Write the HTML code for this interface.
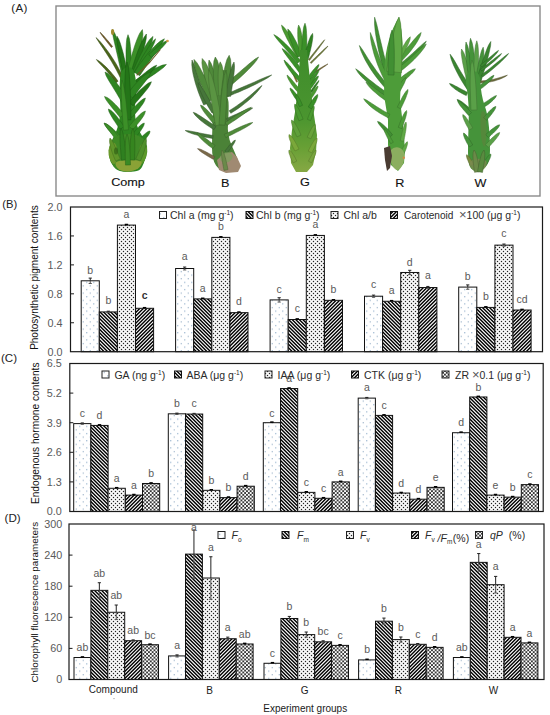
<!DOCTYPE html>
<html><head><meta charset="utf-8"><style>
html,body{margin:0;padding:0;background:#fff;overflow:hidden;}
svg{display:block;font-family:"Liberation Sans", sans-serif;}
</style></head><body>
<svg width="550" height="715" viewBox="0 0 550 715">

<defs>
<pattern id="pBlue" patternUnits="userSpaceOnUse" width="7" height="7.2" x="0" y="0">
 <rect width="7" height="7.2" fill="#fff"/>
 <rect x="2.2" y="1" width="1.1" height="1.1" fill="#86a6c6"/>
 <rect x="5.7" y="4.6" width="1.1" height="1.1" fill="#8fa9c2"/>
</pattern>
<pattern id="pBack" patternUnits="userSpaceOnUse" width="3.6" height="3.6" x="0.3" y="0">
 <rect width="3.6" height="3.6" fill="#fff"/>
 <polygon points="0,0 2.35,0 3.6,1.25 3.6,3.6" fill="#000"/>
 <polygon points="0,1.25 2.35,3.6 0,3.6" fill="#000"/>
</pattern>
<pattern id="pFwd" patternUnits="userSpaceOnUse" width="3.6" height="3.6" x="0.3" y="0">
 <rect width="3.6" height="3.6" fill="#fff"/>
 <polygon points="3.6,0 1.25,0 0,1.25 0,3.6" fill="#000"/>
 <polygon points="3.6,1.25 1.25,3.6 3.6,3.6" fill="#000"/>
</pattern>
<pattern id="pDot" patternUnits="userSpaceOnUse" width="4" height="4" x="0" y="0">
 <rect width="4" height="4" fill="#fff"/>
 <rect x="0.85" y="0.85" width="1.3" height="1.3" fill="#222"/>
 <rect x="2.85" y="2.85" width="1.3" height="1.3" fill="#222"/>
 <rect x="-1.15" y="2.85" width="1.3" height="1.3" fill="#222"/>
 <rect x="2.85" y="-1.15" width="1.3" height="1.3" fill="#222"/>
 <rect x="-1.15" y="-1.15" width="1.3" height="1.3" fill="#222"/>
</pattern>
<pattern id="pChk" patternUnits="userSpaceOnUse" width="3.7" height="3.7">
 <rect width="3.7" height="3.7" fill="#fff"/>
 <rect x="0" y="0" width="1.85" height="1.85" fill="#383838"/>
 <rect x="1.85" y="1.85" width="1.85" height="1.85" fill="#383838"/>
</pattern>
</defs>

<rect width="550" height="715" fill="#fff"/>
<rect x="56" y="6" width="484" height="190" fill="#fff" stroke="#8a8a8a" stroke-width="1.4"/>
<polygon points="123.3,77.4 121.1,73.0 118.8,68.7 116.5,64.5 114.0,60.4 111.3,56.3 108.6,52.3 105.7,48.4 102.7,44.6 99.6,40.9 96.0,37.6 98.6,41.7 101.3,45.7 104.0,49.7 106.6,53.7 109.2,57.7 111.7,61.8 114.1,65.9 116.4,70.1 118.6,74.3 120.7,78.6" fill="#4a6619" stroke="#354912" stroke-width="0.5"/>
<polygon points="112.6,46.5 111.4,45.0 110.2,43.6 109.0,42.1 107.8,40.6 106.5,39.2 105.3,37.7 104.1,36.3 102.8,34.9 101.5,33.5 100.0,32.2 100.9,33.9 102.0,35.5 103.1,37.0 104.3,38.5 105.5,40.0 106.6,41.5 107.8,43.0 109.0,44.5 110.2,46.0 111.4,47.5" fill="#6e5a26" stroke="#4f401b" stroke-width="0.5"/>
<polygon points="118.1,81.3 116.3,78.7 114.4,76.3 112.4,73.9 110.4,71.5 108.3,69.3 106.2,67.1 103.9,65.0 101.6,62.9 99.1,61.1 96.4,59.5 98.3,62.0 100.4,64.2 102.5,66.4 104.5,68.6 106.6,70.9 108.5,73.2 110.5,75.5 112.3,77.9 114.2,80.3 115.9,82.7" fill="#4a6619" stroke="#354912" stroke-width="0.5"/>
<polygon points="126.5,73.5 125.5,69.0 124.6,64.5 123.5,60.0 122.4,55.5 121.2,51.0 119.8,46.6 118.4,42.2 116.7,37.9 114.9,33.6 112.4,29.6 112.7,34.3 113.6,38.8 114.6,43.3 115.7,47.8 116.7,52.2 117.7,56.6 118.7,61.1 119.7,65.5 120.7,70.0 121.5,74.5" fill="#2e8521" stroke="#215f17" stroke-width="0.5"/>
<polygon points="127.2,71.6 126.5,68.0 125.7,64.4 125.0,60.8 124.1,57.2 123.3,53.6 122.3,50.0 121.3,46.5 120.2,43.0 118.9,39.5 117.0,36.2 116.9,40.0 117.3,43.7 117.9,47.3 118.5,50.9 119.2,54.5 119.9,58.1 120.6,61.7 121.4,65.3 122.1,68.8 122.8,72.4" fill="#247518" stroke="#195411" stroke-width="0.5"/>
<polygon points="131.7,73.9 131.6,70.0 131.5,66.1 131.4,62.1 131.2,58.2 131.0,54.3 130.8,50.4 130.4,46.4 130.0,42.5 129.4,38.6 128.0,34.7 126.8,38.7 126.4,42.6 126.2,46.5 126.0,50.5 126.0,54.4 126.0,58.3 126.0,62.3 126.1,66.2 126.2,70.1 126.3,74.1" fill="#2e8521" stroke="#215f17" stroke-width="0.5"/>
<polygon points="134.6,73.0 135.8,68.7 136.9,64.5 138.0,60.2 139.0,56.0 140.0,51.7 141.0,47.4 141.8,43.1 142.5,38.7 142.9,34.3 142.4,29.6 139.6,33.4 137.8,37.4 136.2,41.6 134.7,45.7 133.4,49.9 132.1,54.1 130.9,58.3 129.7,62.6 128.5,66.8 127.4,71.0" fill="#3c9028" stroke="#2b671c" stroke-width="0.5"/>
<polygon points="136.6,72.8 137.8,69.0 138.9,65.2 140.1,61.3 141.2,57.5 142.4,53.7 143.5,49.9 144.5,46.0 145.5,42.1 146.3,38.2 146.4,34.0 143.9,37.4 142.1,41.0 140.5,44.7 139.0,48.4 137.5,52.1 136.2,55.9 134.9,59.7 133.7,63.5 132.5,67.4 131.4,71.2" fill="#247518" stroke="#195411" stroke-width="0.5"/>
<polygon points="138.8,73.2 140.3,69.5 141.8,65.9 143.4,62.4 145.0,58.8 146.5,55.2 148.1,51.6 149.6,47.9 151.0,44.3 152.3,40.5 153.0,36.4 149.9,39.2 147.6,42.5 145.4,45.9 143.4,49.3 141.6,52.8 139.8,56.3 138.0,59.9 136.4,63.5 134.8,67.2 133.2,70.8" fill="#2e8521" stroke="#215f17" stroke-width="0.5"/>
<polygon points="139.0,73.0 140.7,69.6 142.4,66.2 144.2,62.9 145.9,59.5 147.7,56.2 149.4,52.8 151.2,49.4 152.9,46.0 154.5,42.6 155.6,38.8 152.7,41.5 150.3,44.5 148.1,47.7 146.1,50.9 144.1,54.1 142.1,57.4 140.3,60.8 138.5,64.2 136.7,67.6 135.0,71.0" fill="#2e8521" stroke="#215f17" stroke-width="0.5"/>
<polygon points="139.7,75.8 142.2,72.1 144.6,68.4 147.1,64.8 149.7,61.2 152.3,57.6 154.9,54.1 157.5,50.5 160.0,46.8 162.5,43.1 164.4,38.8 160.3,41.1 156.8,44.1 153.6,47.2 150.5,50.5 147.5,53.9 144.7,57.5 142.0,61.1 139.3,64.7 136.8,68.5 134.3,72.2" fill="#2e8521" stroke="#215f17" stroke-width="0.5"/>
<polygon points="151.3,57.5 153.0,56.0 154.8,54.5 156.5,52.9 158.2,51.4 159.8,49.8 161.5,48.2 163.1,46.5 164.6,44.8 166.1,43.0 167.2,40.8 164.9,41.6 162.9,42.9 161.0,44.2 159.2,45.6 157.4,47.0 155.6,48.5 153.9,50.0 152.1,51.5 150.4,53.0 148.7,54.5" fill="#2e8521" stroke="#215f17" stroke-width="0.5"/>
<polygon points="136.6,86.3 139.6,84.2 142.6,82.1 145.7,80.0 148.7,78.0 151.8,75.9 154.8,73.9 157.8,71.8 160.8,69.6 163.8,67.3 166.4,64.4 162.5,65.1 159.1,66.5 155.7,68.1 152.3,69.8 149.1,71.6 145.9,73.5 142.7,75.5 139.6,77.5 136.5,79.6 133.4,81.7" fill="#2e8521" stroke="#215f17" stroke-width="0.5"/>
<polygon points="138.3,83.5 140.3,81.8 142.2,80.2 144.2,78.5 146.2,76.7 148.1,75.0 150.0,73.2 151.9,71.4 153.7,69.6 155.4,67.6 156.8,65.2 154.2,66.2 152.0,67.6 149.9,69.1 147.8,70.6 145.7,72.2 143.7,73.8 141.7,75.5 139.7,77.1 137.7,78.8 135.7,80.5" fill="#247518" stroke="#195411" stroke-width="0.5"/>
<path d="M160.0,50.0 L150.0,62.0 L137.0,75.0" fill="none" stroke="#6e5a26" stroke-width="1.1" stroke-linecap="round" stroke-linejoin="round"/>
<ellipse cx="112.6" cy="32" rx="1.6" ry="3" fill="#a08a30"/>
<circle cx="167.5" cy="41" r="1.3" fill="#d49a48"/>
<path d="M120.0,79.0 Q121.0,68.0 127.5,67.0 Q134.0,66.0 135.5,78.0 Q137.0,90.0 135.5,100.0 Q134.0,110.0 135.5,119.0 Q137.0,128.0 141.0,134.0 Q145.0,140.0 146.0,146.0 Q147.0,152.0 145.5,157.5 Q144.0,163.0 142.0,167.0 Q140.0,171.0 134.0,171.5 Q128.0,172.0 122.5,171.5 Q117.0,171.0 113.5,166.5 Q110.0,162.0 109.0,156.0 Q108.0,150.0 110.0,145.0 Q112.0,140.0 115.0,134.0 Q118.0,128.0 119.5,119.0 Q121.0,110.0 120.0,100.0 Q119.0,90.0 120.0,79.0 Z" fill="#2e8521"/>
<polygon points="126.6,98.5 124.9,95.5 123.2,92.6 121.3,89.7 119.4,86.8 117.4,84.0 115.3,81.3 113.1,78.7 110.8,76.2 108.2,73.8 105.0,72.0 106.0,75.5 107.6,78.5 109.3,81.4 111.1,84.3 112.8,87.1 114.6,90.0 116.3,92.8 118.0,95.7 119.7,98.6 121.4,101.5" fill="#2e8521" stroke="#215f17" stroke-width="0.5"/>
<polygon points="124.0,114.5 122.3,112.4 120.7,110.3 118.9,108.3 117.2,106.3 115.3,104.4 113.4,102.5 111.5,100.7 109.4,99.0 107.2,97.5 104.5,96.5 105.6,99.1 107.1,101.3 108.7,103.4 110.3,105.4 111.9,107.5 113.5,109.5 115.2,111.5 116.8,113.5 118.4,115.5 120.0,117.5" fill="#3c9028" stroke="#2b671c" stroke-width="0.5"/>
<polygon points="124.1,126.6 122.8,124.7 121.5,122.7 120.1,120.8 118.7,118.9 117.3,117.0 115.8,115.2 114.2,113.4 112.5,111.7 110.7,110.2 108.4,109.0 108.9,111.5 110.0,113.7 111.1,115.7 112.3,117.7 113.5,119.7 114.8,121.6 116.1,123.6 117.4,125.5 118.6,127.4 119.9,129.4" fill="#2e8521" stroke="#215f17" stroke-width="0.5"/>
<polygon points="121.7,137.5 120.1,135.8 118.5,134.1 116.9,132.5 115.3,130.9 113.6,129.4 111.9,127.8 110.2,126.4 108.3,125.0 106.4,123.8 104.0,123.0 105.0,125.3 106.3,127.1 107.7,128.9 109.2,130.6 110.7,132.3 112.2,133.9 113.8,135.6 115.3,137.2 116.8,138.9 118.3,140.5" fill="#3c9028" stroke="#2b671c" stroke-width="0.5"/>
<polygon points="132.6,97.9 134.5,95.4 136.4,92.9 138.3,90.4 140.2,87.9 142.2,85.5 144.1,83.0 146.1,80.5 147.9,78.0 149.7,75.3 151.0,72.0 147.7,73.2 144.9,75.0 142.4,77.1 140.0,79.2 137.7,81.5 135.5,83.9 133.3,86.4 131.3,88.9 129.3,91.5 127.4,94.1" fill="#2e8521" stroke="#215f17" stroke-width="0.5"/>
<polygon points="133.1,105.8 135.0,103.5 137.0,101.3 139.0,99.0 140.9,96.7 142.9,94.4 144.8,92.1 146.7,89.8 148.5,87.4 150.2,84.8 151.4,81.8 148.4,83.1 145.9,84.9 143.6,86.9 141.3,88.9 139.1,91.0 137.0,93.2 134.9,95.4 132.9,97.6 130.9,99.9 128.9,102.2" fill="#247518" stroke="#195411" stroke-width="0.5"/>
<polygon points="131.9,117.6 133.4,115.8 135.0,114.0 136.5,112.2 138.0,110.4 139.5,108.5 140.9,106.6 142.3,104.7 143.6,102.7 144.7,100.5 145.4,98.0 143.0,99.1 141.1,100.5 139.3,102.1 137.6,103.8 135.9,105.5 134.3,107.2 132.8,109.0 131.2,110.8 129.6,112.6 128.1,114.4" fill="#2e8521" stroke="#215f17" stroke-width="0.5"/>
<polygon points="132.9,129.6 134.3,127.9 135.8,126.2 137.2,124.5 138.6,122.8 140.0,121.0 141.3,119.2 142.6,117.4 143.8,115.5 144.8,113.4 145.4,111.0 143.1,112.0 141.3,113.3 139.6,114.8 138.0,116.4 136.4,118.0 134.9,119.6 133.4,121.3 132.0,123.0 130.5,124.7 129.1,126.4" fill="#3c9028" stroke="#2b671c" stroke-width="0.5"/>
<polygon points="134.8,138.4 135.9,137.0 137.0,135.6 138.1,134.2 139.2,132.8 140.3,131.3 141.3,129.8 142.3,128.3 143.2,126.7 144.0,125.0 144.3,123.0 142.4,123.8 140.9,124.9 139.5,126.1 138.3,127.4 137.0,128.7 135.8,130.0 134.7,131.4 133.5,132.8 132.4,134.2 131.2,135.6" fill="#2e8521" stroke="#215f17" stroke-width="0.5"/>
<polygon points="140.7,144.5 141.8,143.3 142.9,142.1 143.9,140.9 145.0,139.7 146.0,138.4 147.0,137.1 148.0,135.8 148.9,134.4 149.7,132.9 150.0,131.0 148.1,131.5 146.7,132.4 145.4,133.4 144.2,134.5 143.0,135.6 141.8,136.7 140.7,137.9 139.5,139.1 138.4,140.3 137.3,141.5" fill="#2e8521" stroke="#215f17" stroke-width="0.5"/>
<polygon points="118.6,136.9 117.5,135.2 116.3,133.7 115.1,132.1 113.8,130.6 112.5,129.1 111.1,127.7 109.6,126.4 108.1,125.1 106.4,124.0 104.4,123.3 105.2,125.3 106.2,126.9 107.4,128.5 108.5,130.0 109.7,131.5 110.8,133.0 112.0,134.5 113.1,136.1 114.3,137.6 115.4,139.1" fill="#3c9028" stroke="#2b671c" stroke-width="0.5"/>
<polygon points="131.0,119.9 130.9,114.1 130.8,108.3 130.7,102.5 130.5,96.8 130.3,91.0 130.0,85.2 129.6,79.4 129.2,73.6 128.5,67.8 127.0,62.0 125.7,67.8 125.2,73.6 125.0,79.4 124.8,85.2 124.7,91.0 124.7,96.8 124.7,102.7 124.8,108.5 124.9,114.3 125.0,120.1" fill="#247518" stroke="#195411" stroke-width="0.5"/>
<polygon points="128.5,129.8 128.1,124.8 127.7,119.8 127.3,114.8 126.8,109.8 126.3,104.8 125.8,99.8 125.1,94.8 124.4,89.9 123.5,84.9 122.0,80.0 121.3,85.1 121.2,90.1 121.3,95.2 121.4,100.2 121.7,105.2 122.0,110.2 122.3,115.2 122.7,120.2 123.1,125.2 123.5,130.2" fill="#3c9028" stroke="#2b671c" stroke-width="0.5"/>
<path d="M110.0,145.5 Q112.0,138.0 117.0,136.0 Q122.0,134.0 129.0,134.0 Q136.0,134.0 141.0,137.0 Q146.0,140.0 147.0,146.0 Q148.0,152.0 146.0,157.5 Q144.0,163.0 140.5,166.5 Q137.0,170.0 132.5,171.0 Q128.0,172.0 123.5,171.5 Q119.0,171.0 115.5,168.0 Q112.0,165.0 110.0,159.0 Q108.0,153.0 110.0,145.5 Z" fill="#3f8a26"/>
<path d="M108.5,150.5 Q109.0,146.0 112.0,143.5 Q115.0,141.0 116.5,146.5 Q118.0,152.0 117.0,158.0 Q116.0,164.0 114.0,164.0 Q112.0,164.0 110.0,159.5 Q108.0,155.0 108.5,150.5 Z" fill="#6f9a2c" opacity="0.9"/>
<path d="M140.0,146.5 Q141.0,143.0 144.0,144.0 Q147.0,145.0 147.0,150.5 Q147.0,156.0 144.5,160.5 Q142.0,165.0 140.5,162.5 Q139.0,160.0 139.0,155.0 Q139.0,150.0 140.0,146.5 Z" fill="#5f9a2a" opacity="0.9"/>
<path d="M116.0,166.0 Q114.0,162.0 119.0,161.0 Q124.0,160.0 130.0,160.0 Q136.0,160.0 139.5,160.5 Q143.0,161.0 141.0,165.0 Q139.0,169.0 133.5,170.5 Q128.0,172.0 123.0,171.0 Q118.0,170.0 116.0,166.0 Z" fill="#8aa236"/>
<polygon points="120.3,158.9 119.3,156.8 118.4,154.7 117.5,152.6 116.6,150.5 115.7,148.4 114.8,146.3 113.9,144.1 112.9,142.0 111.7,139.9 110.0,138.0 109.5,140.6 109.7,143.0 110.2,145.3 110.7,147.7 111.4,150.0 112.1,152.2 112.9,154.5 113.8,156.7 114.7,158.9 115.7,161.1" fill="#5f962a" stroke="#446c1e" stroke-width="0.5"/>
<polygon points="140.3,161.1 141.3,158.9 142.2,156.7 143.1,154.5 143.9,152.2 144.6,150.0 145.3,147.7 145.8,145.3 146.3,143.0 146.5,140.6 146.0,138.0 144.3,139.9 143.1,142.0 142.1,144.1 141.2,146.3 140.3,148.4 139.4,150.5 138.5,152.6 137.6,154.7 136.7,156.8 135.7,158.9" fill="#4f902a" stroke="#38671e" stroke-width="0.5"/>
<polygon points="126.5,159.8 126.2,156.6 125.9,153.4 125.5,150.2 125.2,147.0 124.8,143.8 124.4,140.6 123.8,137.4 123.2,134.2 122.4,131.1 121.0,128.0 120.2,131.3 120.0,134.6 120.0,137.8 120.0,141.0 120.2,144.2 120.4,147.4 120.7,150.6 120.9,153.8 121.2,157.0 121.5,160.2" fill="#2f8020" stroke="#215c17" stroke-width="0.5"/>
<polygon points="134.5,160.1 134.6,156.9 134.7,153.7 134.8,150.5 134.8,147.3 134.8,144.1 134.8,140.9 134.6,137.7 134.4,134.5 134.0,131.2 133.0,128.0 131.8,131.2 131.2,134.3 130.8,137.5 130.4,140.7 130.2,143.9 130.0,147.1 129.8,150.3 129.7,153.5 129.6,156.7 129.5,159.9" fill="#35851f" stroke="#265f16" stroke-width="0.5"/>
<polygon points="130.5,164.9 130.4,161.8 130.3,158.7 130.2,155.6 130.0,152.5 129.8,149.4 129.6,146.3 129.2,143.2 128.8,140.1 128.2,137.1 127.0,134.0 126.0,137.1 125.6,140.3 125.4,143.4 125.2,146.5 125.2,149.6 125.2,152.7 125.2,155.8 125.3,158.9 125.4,162.0 125.5,165.1" fill="#3a8a24" stroke="#296319" stroke-width="0.5"/>
<ellipse cx="116" cy="151" rx="2" ry="3.6" fill="#2a5a12" opacity="0.6"/>
<polygon points="230.4,85.7 233.5,83.2 236.6,80.5 239.6,77.9 242.6,75.2 245.5,72.4 248.4,69.6 251.2,66.7 253.9,63.7 256.5,60.6 258.6,57.0 255.0,59.1 251.9,61.6 248.8,64.1 245.8,66.7 242.7,69.3 239.7,71.9 236.7,74.5 233.7,77.1 230.6,79.7 227.6,82.3" fill="#4f8a3a" stroke="#386329" stroke-width="0.5"/>
<polygon points="230.6,95.4 234.8,93.6 239.1,91.9 243.3,90.0 247.5,88.2 251.6,86.2 255.8,84.2 259.9,82.1 263.9,80.0 267.9,77.7 271.7,75.0 267.3,76.5 263.1,78.2 258.9,80.0 254.7,81.9 250.5,83.7 246.3,85.5 242.1,87.3 237.9,89.1 233.7,90.9 229.4,92.6" fill="#46763a" stroke="#325429" stroke-width="0.5"/>
<polygon points="230.8,113.3 234.4,111.0 237.9,108.7 241.3,106.2 244.6,103.6 247.8,101.0 251.0,98.2 254.0,95.3 256.9,92.2 259.6,89.0 262.0,85.5 258.6,88.1 255.5,90.8 252.4,93.6 249.3,96.2 246.1,98.8 242.8,101.4 239.5,103.8 236.2,106.2 232.7,108.5 229.2,110.7" fill="#46763a" stroke="#325429" stroke-width="0.5"/>
<path d="M202.5,82.0 Q201.0,74.0 207.5,72.0 Q214.0,70.0 221.5,70.0 Q229.0,70.0 231.0,75.0 Q233.0,80.0 232.0,86.0 Q231.0,92.0 228.5,96.0 Q226.0,100.0 222.0,101.0 Q218.0,102.0 214.0,100.0 Q210.0,98.0 207.0,94.0 Q204.0,90.0 202.5,82.0 Z" fill="#4f8a3a"/>
<polygon points="208.3,102.9 206.4,98.8 204.6,94.6 202.9,90.3 201.3,86.0 199.8,81.8 198.3,77.4 196.9,73.1 195.5,68.7 194.0,64.3 192.0,60.0 191.8,64.8 192.3,69.5 193.1,74.1 194.2,78.6 195.4,83.2 196.8,87.6 198.3,92.0 200.0,96.4 201.8,100.8 203.7,105.1" fill="#46763a" stroke="#325429" stroke-width="0.5"/>
<polygon points="215.1,98.4 213.2,94.5 211.3,90.5 209.3,86.5 207.4,82.6 205.5,78.6 203.5,74.6 201.5,70.7 199.4,66.8 197.1,62.9 194.0,59.4 194.2,64.1 195.2,68.5 196.5,72.8 198.0,77.0 199.6,81.2 201.3,85.3 203.1,89.4 205.0,93.5 206.9,97.5 208.9,101.6" fill="#4f8a3a" stroke="#386329" stroke-width="0.5"/>
<polygon points="218.6,95.8 217.3,92.0 216.0,88.1 214.7,84.3 213.3,80.5 211.9,76.7 210.4,72.9 208.8,69.1 207.1,65.4 205.1,61.8 202.2,58.5 201.9,62.9 202.4,67.0 203.3,71.0 204.2,74.9 205.3,78.8 206.5,82.7 207.7,86.6 208.9,90.5 210.2,94.3 211.4,98.2" fill="#5a9442" stroke="#406a2f" stroke-width="0.5"/>
<polygon points="219.9,95.3 219.1,91.7 218.3,88.2 217.5,84.6 216.6,81.0 215.7,77.4 214.7,73.8 213.7,70.3 212.5,66.8 211.1,63.3 209.0,60.0 208.5,63.9 208.7,67.6 209.1,71.3 209.7,75.0 210.3,78.6 211.0,82.2 211.7,85.8 212.5,89.4 213.3,93.1 214.1,96.7" fill="#4f8a3a" stroke="#386329" stroke-width="0.5"/>
<polygon points="223.0,95.6 222.6,91.7 222.2,87.8 221.8,83.9 221.3,80.0 220.8,76.2 220.2,72.3 219.5,68.4 218.6,64.6 217.5,60.7 215.3,57.0 213.9,61.1 213.5,65.0 213.3,69.0 213.3,72.9 213.5,76.8 213.7,80.8 214.0,84.7 214.3,88.6 214.7,92.5 215.0,96.4" fill="#4f8a3a" stroke="#386329" stroke-width="0.5"/>
<polygon points="225.2,95.8 225.1,92.4 224.9,89.0 224.7,85.6 224.4,82.2 224.1,78.7 223.7,75.3 223.3,71.9 222.7,68.5 221.9,65.1 220.2,61.8 218.9,65.3 218.4,68.8 218.2,72.2 218.1,75.6 218.1,79.1 218.2,82.5 218.3,85.9 218.4,89.3 218.6,92.8 218.8,96.2" fill="#5a9442" stroke="#406a2f" stroke-width="0.5"/>
<polygon points="229.0,96.4 229.4,92.3 229.8,88.3 230.2,84.2 230.5,80.1 230.8,76.0 231.0,71.9 231.0,67.8 230.9,63.7 230.6,59.6 229.2,55.3 227.0,59.2 225.8,63.2 224.8,67.2 224.1,71.2 223.4,75.3 222.9,79.3 222.3,83.4 221.9,87.5 221.4,91.5 221.0,95.6" fill="#4f8a3a" stroke="#386329" stroke-width="0.5"/>
<polygon points="230.5,96.4 231.1,93.0 231.7,89.6 232.2,86.2 232.8,82.8 233.3,79.4 233.7,76.0 234.1,72.5 234.4,69.1 234.5,65.6 234.0,62.0 232.3,65.2 231.2,68.5 230.3,71.9 229.5,75.2 228.7,78.6 228.0,82.0 227.4,85.4 226.7,88.8 226.1,92.2 225.5,95.6" fill="#46763a" stroke="#325429" stroke-width="0.5"/>
<polygon points="215.9,110.8 214.2,108.0 212.4,105.2 210.7,102.3 209.1,99.5 207.4,96.6 205.7,93.7 204.0,90.9 202.2,88.1 200.4,85.3 198.0,82.7 198.5,86.2 199.6,89.4 200.9,92.5 202.3,95.6 203.7,98.6 205.3,101.6 206.9,104.5 208.6,107.4 210.3,110.3 212.1,113.2" fill="#46763a" stroke="#325429" stroke-width="0.5"/>
<path d="M213.5,104.0 Q214.0,96.0 221.0,95.0 Q228.0,94.0 228.5,102.0 Q229.0,110.0 228.0,122.5 Q227.0,135.0 231.5,145.0 Q236.0,155.0 238.0,160.5 Q240.0,166.0 236.0,169.0 Q232.0,172.0 226.0,171.5 Q220.0,171.0 216.0,165.5 Q212.0,160.0 212.0,147.5 Q212.0,135.0 212.5,123.5 Q213.0,112.0 213.5,104.0 Z" fill="#4b8237"/>
<polygon points="227.6,121.4 230.2,120.2 232.8,119.0 235.3,117.7 237.9,116.5 240.4,115.3 243.0,114.0 245.5,112.7 248.0,111.3 250.4,109.8 252.7,108.0 249.8,108.6 247.1,109.5 244.5,110.5 241.9,111.6 239.3,112.7 236.7,113.9 234.1,115.1 231.5,116.2 228.9,117.4 226.4,118.6" fill="#46763a" stroke="#325429" stroke-width="0.5"/>
<polygon points="227.0,125.5 229.5,123.8 232.0,122.1 234.6,120.4 237.1,118.7 239.6,116.9 242.1,115.2 244.5,113.4 246.9,111.5 249.3,109.5 251.4,107.2 248.4,108.2 245.7,109.6 243.0,111.1 240.4,112.7 237.8,114.3 235.2,115.9 232.7,117.5 230.1,119.2 227.6,120.9 225.0,122.5" fill="#4f8a3a" stroke="#386329" stroke-width="0.5"/>
<polygon points="225.8,137.6 228.5,136.2 231.3,134.9 234.1,133.5 236.9,132.1 239.6,130.7 242.3,129.3 245.1,127.8 247.7,126.2 250.4,124.6 252.8,122.5 249.7,123.1 246.7,124.2 243.9,125.3 241.0,126.5 238.2,127.8 235.4,129.1 232.6,130.4 229.8,131.7 227.0,133.1 224.2,134.4" fill="#4f8a3a" stroke="#386329" stroke-width="0.5"/>
<polygon points="227.2,152.9 228.1,151.7 229.1,150.5 230.0,149.3 230.9,148.1 231.8,146.9 232.7,145.6 233.5,144.3 234.3,143.0 235.0,141.6 235.4,140.0 233.9,140.8 232.8,141.8 231.7,142.9 230.6,144.0 229.6,145.1 228.6,146.3 227.7,147.5 226.7,148.7 225.8,149.9 224.8,151.1" fill="#46763a" stroke="#325429" stroke-width="0.5"/>
<polygon points="216.7,120.5 215.3,118.8 213.8,117.1 212.3,115.5 210.8,113.8 209.3,112.2 207.8,110.5 206.2,109.0 204.5,107.5 202.7,106.0 200.5,105.0 201.2,107.4 202.3,109.3 203.5,111.2 204.8,113.1 206.2,114.8 207.6,116.6 209.0,118.3 210.4,120.1 211.8,121.8 213.3,123.5" fill="#4f8a3a" stroke="#386329" stroke-width="0.5"/>
<polygon points="216.0,126.3 213.8,124.9 211.5,123.5 209.3,122.0 207.1,120.5 204.9,119.1 202.7,117.6 200.4,116.1 198.2,114.7 195.9,113.3 193.2,112.3 194.7,114.7 196.6,116.7 198.5,118.6 200.6,120.4 202.7,122.1 204.9,123.7 207.1,125.3 209.4,126.8 211.6,128.3 214.0,129.7" fill="#46763a" stroke="#325429" stroke-width="0.5"/>
<polygon points="213.2,135.5 210.4,135.0 207.6,134.5 204.9,134.0 202.1,133.5 199.3,132.9 196.5,132.3 193.7,131.7 190.9,131.2 188.1,130.7 185.2,130.5 187.7,132.0 190.4,133.1 193.1,134.0 195.9,134.8 198.7,135.6 201.5,136.3 204.3,136.9 207.1,137.5 209.9,138.0 212.8,138.5" fill="#46763a" stroke="#325429" stroke-width="0.5"/>
<polygon points="215.1,145.4 213.3,144.1 211.5,142.8 209.8,141.4 208.0,140.1 206.3,138.8 204.5,137.4 202.7,136.1 200.9,134.8 199.0,133.5 196.8,132.6 197.8,134.8 199.1,136.7 200.7,138.4 202.2,140.0 203.9,141.6 205.6,143.1 207.4,144.6 209.2,146.0 211.0,147.3 212.9,148.6" fill="#4f8a3a" stroke="#386329" stroke-width="0.5"/>
<polygon points="214.7,156.7 213.1,155.8 211.4,154.8 209.8,153.9 208.1,153.0 206.4,152.1 204.7,151.2 203.0,150.4 201.3,149.6 199.5,148.9 197.5,148.6 198.8,150.1 200.3,151.3 201.9,152.4 203.5,153.5 205.1,154.5 206.7,155.5 208.3,156.5 210.0,157.4 211.6,158.4 213.3,159.3" fill="#7a6a4a" stroke="#574c35" stroke-width="0.5"/>
<polygon points="222.4,124.4 221.4,118.9 220.4,113.4 219.4,107.9 218.3,102.4 217.2,96.9 216.0,91.5 214.7,86.0 213.2,80.6 211.6,75.2 209.0,70.0 208.4,75.8 208.8,81.4 209.3,87.0 210.0,92.5 210.8,98.1 211.7,103.6 212.6,109.1 213.6,114.6 214.6,120.1 215.6,125.6" fill="#5a9442" stroke="#406a2f" stroke-width="0.5"/>
<polygon points="225.0,125.2 225.4,119.7 225.8,114.2 226.1,108.7 226.5,103.2 226.8,97.7 227.0,92.2 227.1,86.7 227.1,81.1 227.0,75.6 226.0,70.0 224.2,75.4 223.3,80.9 222.5,86.3 221.8,91.8 221.2,97.3 220.7,102.8 220.3,108.3 219.8,113.8 219.4,119.3 219.0,124.8" fill="#4f8a3a" stroke="#386329" stroke-width="0.5"/>
<polygon points="217.0,160.0 224.0,154.0 232.0,152.0 237.0,157.0 241.0,166.0 238.0,172.0 226.0,173.0 219.0,170.0" fill="#a08a72"/>
<path d="M220.0,159.0 Q219.0,156.0 223.5,153.5 Q228.0,151.0 231.0,153.5 Q234.0,156.0 231.5,159.5 Q229.0,163.0 225.0,162.5 Q221.0,162.0 220.0,159.0 Z" fill="#7e9e5e" opacity="0.85"/>
<polygon points="228.0,169.6 227.6,167.6 227.2,165.6 226.7,163.6 226.3,161.6 225.8,159.6 225.3,157.7 224.7,155.7 224.1,153.7 223.3,151.8 222.0,150.0 221.5,152.2 221.5,154.3 221.7,156.3 221.9,158.3 222.2,160.4 222.5,162.4 222.9,164.4 223.2,166.4 223.6,168.4 224.0,170.4" fill="#6a8a4a" stroke="#4c6335" stroke-width="0.5"/>
<linearGradient id="gG" x1="0" y1="0" x2="0" y2="1"><stop offset="0" stop-color="#3f8c2c"/><stop offset="0.55" stop-color="#4a952f"/><stop offset="0.8" stop-color="#68a035"/><stop offset="1" stop-color="#86a844"/></linearGradient>
<polygon points="300.6,60.8 298.2,57.8 295.8,54.9 293.4,52.1 290.9,49.3 288.3,46.5 285.7,43.9 282.9,41.3 280.1,38.8 277.2,36.5 273.8,34.6 275.9,37.8 278.3,40.7 280.7,43.5 283.2,46.3 285.6,49.0 288.0,51.8 290.4,54.6 292.8,57.5 295.1,60.3 297.4,63.2" fill="#3a9028" stroke="#29671c" stroke-width="0.5"/>
<polygon points="301.2,54.8 299.5,51.7 297.8,48.6 296.1,45.4 294.3,42.3 292.5,39.3 290.6,36.3 288.6,33.3 286.5,30.4 284.3,27.6 281.5,25.1 282.3,28.7 283.7,32.0 285.3,35.2 286.8,38.4 288.5,41.6 290.1,44.7 291.8,47.8 293.5,50.9 295.1,54.0 296.8,57.2" fill="#4a9a30" stroke="#356e22" stroke-width="0.5"/>
<polygon points="302.3,55.0 301.1,52.3 299.8,49.6 298.6,46.9 297.3,44.2 296.0,41.5 294.6,38.9 293.2,36.3 291.7,33.7 290.1,31.2 287.8,29.0 288.0,32.2 288.8,35.1 289.7,37.9 290.7,40.7 291.8,43.5 292.9,46.2 294.1,48.9 295.3,51.6 296.5,54.3 297.7,57.0" fill="#3a9028" stroke="#29671c" stroke-width="0.5"/>
<polygon points="304.5,55.7 304.1,52.6 303.8,49.5 303.4,46.5 303.0,43.4 302.6,40.3 302.1,37.2 301.6,34.2 300.9,31.1 300.1,28.1 298.6,25.1 297.8,28.3 297.7,31.5 297.7,34.6 297.8,37.7 298.0,40.8 298.3,43.9 298.5,47.0 298.8,50.1 299.2,53.2 299.5,56.3" fill="#4a9a30" stroke="#356e22" stroke-width="0.5"/>
<polygon points="306.5,58.1 306.6,54.6 306.7,51.1 306.8,47.6 306.8,44.1 306.8,40.7 306.8,37.2 306.6,33.7 306.4,30.2 306.0,26.7 305.0,23.2 303.8,26.6 303.2,30.1 302.8,33.6 302.4,37.1 302.2,40.5 302.0,44.0 301.8,47.5 301.7,51.0 301.6,54.4 301.5,57.9" fill="#3a9028" stroke="#29671c" stroke-width="0.5"/>
<polygon points="307.8,60.6 308.5,57.9 309.2,55.2 309.8,52.6 310.5,49.9 311.1,47.2 311.7,44.5 312.2,41.8 312.6,39.1 312.9,36.3 312.6,33.4 310.9,35.8 309.8,38.3 308.8,40.9 307.9,43.5 307.1,46.2 306.3,48.8 305.6,51.5 304.8,54.1 304.1,56.8 303.4,59.4" fill="#2e8020" stroke="#215c17" stroke-width="0.5"/>
<polygon points="309.5,60.4 311.1,58.4 312.7,56.3 314.2,54.3 315.8,52.3 317.3,50.2 318.9,48.2 320.4,46.1 321.9,44.0 323.4,41.9 324.7,39.7 322.9,41.5 321.2,43.5 319.6,45.5 318.0,47.5 316.4,49.5 314.8,51.5 313.2,53.5 311.6,55.5 310.1,57.6 308.5,59.6" fill="#6d7a3a" stroke="#4e5729" stroke-width="0.5"/>
<polygon points="311.2,63.5 312.9,61.8 314.6,60.1 316.3,58.4 318.1,56.6 319.8,54.9 321.5,53.2 323.2,51.5 324.8,49.7 326.5,47.9 328.0,46.0 326.1,47.5 324.2,49.1 322.5,50.7 320.7,52.4 318.9,54.1 317.2,55.8 315.4,57.4 313.7,59.1 312.0,60.8 310.2,62.5" fill="#6d7a3a" stroke="#4e5729" stroke-width="0.5"/>
<polygon points="312.3,74.5 313.9,73.5 315.5,72.4 317.1,71.4 318.7,70.4 320.3,69.4 321.9,68.3 323.4,67.3 325.0,66.2 326.5,65.1 328.0,63.9 326.3,64.7 324.6,65.6 323.0,66.6 321.3,67.5 319.7,68.5 318.1,69.5 316.5,70.5 314.9,71.5 313.3,72.5 311.7,73.5" fill="#7a6a3a" stroke="#574c29" stroke-width="0.5"/>
<polygon points="309.4,81.0 310.5,79.5 311.6,77.9 312.7,76.3 313.8,74.8 314.8,73.2 315.8,71.6 316.8,69.9 317.7,68.3 318.6,66.5 319.0,64.5 317.2,65.6 315.9,66.9 314.6,68.4 313.4,69.8 312.2,71.3 311.0,72.8 309.9,74.4 308.8,75.9 307.7,77.4 306.6,79.0" fill="#3a9028" stroke="#29671c" stroke-width="0.5"/>
<polygon points="310.4,89.1 311.3,87.9 312.3,86.7 313.2,85.5 314.1,84.2 315.0,83.0 315.8,81.7 316.7,80.4 317.4,79.1 318.1,77.7 318.4,76.0 316.8,76.7 315.6,77.7 314.5,78.8 313.4,79.9 312.4,81.0 311.4,82.2 310.5,83.3 309.5,84.5 308.6,85.7 307.6,86.9" fill="#3a9028" stroke="#29671c" stroke-width="0.5"/>
<polygon points="311.7,92.5 312.5,91.4 313.3,90.2 314.1,89.1 314.9,87.9 315.7,86.7 316.4,85.5 317.2,84.3 317.9,83.1 318.5,81.9 319.0,80.5 317.9,81.4 316.9,82.5 316.0,83.6 315.2,84.7 314.3,85.8 313.5,86.9 312.7,88.0 311.9,89.2 311.1,90.3 310.3,91.5" fill="#2e8020" stroke="#215c17" stroke-width="0.5"/>
<polygon points="302.8,70.8 301.0,68.4 299.2,65.9 297.4,63.5 295.4,61.1 293.5,58.8 291.4,56.5 289.3,54.3 287.1,52.2 284.8,50.2 282.1,48.6 283.5,51.4 285.2,53.9 287.0,56.4 288.8,58.8 290.6,61.2 292.4,63.5 294.2,65.9 296.0,68.3 297.8,70.7 299.6,73.2" fill="#3a9028" stroke="#29671c" stroke-width="0.5"/>
<polygon points="297.5,81.8 296.8,80.1 296.1,78.5 295.3,76.9 294.6,75.3 293.9,73.7 293.1,72.1 292.3,70.5 291.5,68.9 290.7,67.3 289.7,65.8 290.2,67.5 290.8,69.2 291.5,70.9 292.1,72.5 292.8,74.1 293.6,75.8 294.3,77.4 295.0,79.0 295.7,80.6 296.5,82.2" fill="#8a6a2a" stroke="#634c1e" stroke-width="0.5"/>
<polygon points="301.3,78.8 299.6,76.9 297.9,75.0 296.2,73.1 294.5,71.2 292.9,69.3 291.2,67.4 289.6,65.4 287.9,63.5 286.1,61.7 284.0,60.0 284.8,62.6 286.0,64.9 287.4,67.1 288.8,69.2 290.3,71.3 291.9,73.4 293.6,75.4 295.2,77.4 297.0,79.3 298.7,81.2" fill="#3a9028" stroke="#29671c" stroke-width="0.5"/>
<polygon points="301.3,90.8 299.9,89.2 298.5,87.7 297.1,86.1 295.7,84.4 294.4,82.8 293.0,81.2 291.7,79.6 290.3,78.0 288.8,76.4 287.0,75.0 287.5,77.2 288.4,79.2 289.5,81.1 290.6,83.0 291.8,84.8 293.1,86.5 294.4,88.3 295.8,89.9 297.3,91.6 298.7,93.2" fill="#4a9a30" stroke="#356e22" stroke-width="0.5"/>
<polygon points="301.4,101.0 300.4,99.6 299.4,98.2 298.4,96.8 297.4,95.4 296.3,94.1 295.2,92.7 294.1,91.4 292.9,90.1 291.7,88.9 290.0,88.0 290.3,89.9 291.1,91.5 291.9,93.0 292.8,94.5 293.7,95.9 294.6,97.4 295.6,98.8 296.6,100.2 297.6,101.6 298.6,103.0" fill="#3a9028" stroke="#29671c" stroke-width="0.5"/>
<polygon points="310.2,84.9 311.2,83.5 312.2,82.1 313.2,80.7 314.2,79.2 315.1,77.8 316.1,76.4 316.9,74.9 317.8,73.4 318.6,71.8 319.0,70.0 317.4,71.0 316.2,72.2 315.1,73.5 313.9,74.8 312.9,76.2 311.8,77.6 310.8,78.9 309.8,80.3 308.8,81.7 307.8,83.1" fill="#3a9028" stroke="#29671c" stroke-width="0.5"/>
<polygon points="311.2,98.8 312.0,97.6 312.8,96.4 313.6,95.2 314.4,94.0 315.2,92.8 315.9,91.5 316.6,90.2 317.2,88.9 317.8,87.6 318.0,86.0 316.6,86.8 315.6,87.9 314.6,89.0 313.7,90.1 312.8,91.2 312.0,92.4 311.2,93.6 310.4,94.8 309.6,96.0 308.8,97.2" fill="#4a9a30" stroke="#356e22" stroke-width="0.5"/>
<path d="M300,50 L307,50 L310,80 L312,100 L314,115 L317,135 L316,152 L313,165 L307,172 L296,172 L291,163 L290,148 L292,130 L295,112 L297,95 L299,75 Z" fill="url(#gG)"/>
<polygon points="302.6,105.3 302.1,104.2 301.6,103.0 301.1,101.9 300.5,100.7 300.0,99.6 299.4,98.5 298.7,97.4 298.0,96.3 297.2,95.3 296.0,94.5 295.8,96.0 296.0,97.3 296.3,98.5 296.6,99.7 297.0,100.9 297.5,102.1 297.9,103.2 298.4,104.4 298.9,105.5 299.4,106.7" fill="#3a9028" stroke="#29671c" stroke-width="0.5"/>
<polygon points="303.1,119.2 302.5,117.6 301.8,116.0 301.2,114.4 300.5,112.8 299.8,111.2 299.1,109.7 298.3,108.2 297.4,106.7 296.4,105.2 294.8,104.0 294.5,106.0 294.7,107.7 295.0,109.4 295.5,111.1 296.0,112.8 296.5,114.4 297.1,116.0 297.7,117.6 298.3,119.2 298.9,120.8" fill="#4a9a30" stroke="#356e22" stroke-width="0.5"/>
<polygon points="301.0,135.1 300.3,133.5 299.6,131.9 298.8,130.3 298.0,128.7 297.2,127.1 296.3,125.6 295.4,124.1 294.4,122.6 293.3,121.2 291.6,120.0 291.4,122.0 291.8,123.8 292.2,125.5 292.8,127.2 293.4,128.9 294.1,130.5 294.8,132.1 295.5,133.7 296.2,135.3 297.0,136.9" fill="#5fa03a" stroke="#447329" stroke-width="0.5"/>
<polygon points="299.0,149.0 298.2,147.4 297.4,145.9 296.6,144.3 295.7,142.8 294.8,141.3 293.9,139.8 293.0,138.3 291.9,136.9 290.7,135.6 289.0,134.5 288.9,136.5 289.3,138.3 289.8,140.0 290.5,141.6 291.2,143.2 291.9,144.8 292.6,146.4 293.4,147.9 294.2,149.5 295.0,151.0" fill="#7aa83a" stroke="#577829" stroke-width="0.5"/>
<polygon points="296.8,161.1 296.2,159.9 295.6,158.7 295.0,157.5 294.3,156.3 293.7,155.2 292.9,154.0 292.2,152.9 291.4,151.8 290.4,150.8 289.0,150.0 288.8,151.6 289.0,153.0 289.4,154.3 289.9,155.6 290.3,156.8 290.9,158.1 291.4,159.3 292.0,160.5 292.6,161.7 293.2,162.9" fill="#7aa43e" stroke="#57762c" stroke-width="0.5"/>
<polygon points="311.7,109.0 312.5,107.6 313.3,106.3 314.0,104.9 314.7,103.6 315.5,102.2 316.1,100.8 316.7,99.3 317.3,97.8 317.7,96.3 317.7,94.5 316.1,95.4 315.0,96.6 314.0,97.8 313.1,99.0 312.2,100.3 311.4,101.6 310.6,103.0 309.8,104.3 309.0,105.7 308.3,107.0" fill="#3a9028" stroke="#29671c" stroke-width="0.5"/>
<polygon points="310.6,120.6 311.1,119.2 311.6,117.8 312.1,116.4 312.6,115.0 313.0,113.5 313.4,112.1 313.8,110.7 314.1,109.2 314.3,107.7 314.0,106.0 312.7,107.1 311.9,108.4 311.2,109.7 310.6,111.1 310.0,112.5 309.4,113.8 308.9,115.2 308.4,116.6 307.9,118.0 307.4,119.4" fill="#4a9a30" stroke="#356e22" stroke-width="0.5"/>
<polygon points="310.8,138.8 311.4,137.5 312.1,136.1 312.7,134.7 313.2,133.4 313.8,132.0 314.3,130.6 314.8,129.1 315.1,127.7 315.4,126.1 315.2,124.4 313.7,125.4 312.8,126.6 311.9,127.8 311.1,129.1 310.4,130.4 309.7,131.8 309.1,133.1 308.4,134.5 307.8,135.8 307.2,137.2" fill="#68a23a" stroke="#4a7429" stroke-width="0.5"/>
<polygon points="311.8,152.9 312.5,151.5 313.2,150.1 313.9,148.7 314.5,147.3 315.2,145.8 315.7,144.4 316.3,142.9 316.8,141.4 317.1,139.8 317.0,138.0 315.5,139.0 314.4,140.2 313.5,141.5 312.7,142.8 311.8,144.2 311.1,145.5 310.3,146.9 309.6,148.3 308.9,149.7 308.2,151.1" fill="#7aa83a" stroke="#577829" stroke-width="0.5"/>
<polygon points="311.6,162.8 312.2,161.6 312.8,160.4 313.3,159.2 313.9,158.0 314.4,156.7 315.0,155.5 315.4,154.2 315.8,152.9 316.1,151.6 316.0,150.0 314.7,150.8 313.8,151.9 313.0,153.0 312.2,154.1 311.6,155.3 310.9,156.4 310.3,157.6 309.6,158.8 309.0,160.0 308.4,161.2" fill="#78a43e" stroke="#56762c" stroke-width="0.5"/>
<polygon points="391.1,79.3 389.2,73.2 387.3,67.0 385.6,60.9 383.9,54.7 382.4,48.5 380.9,42.2 379.4,36.0 378.0,29.7 376.5,23.4 374.6,17.2 374.5,23.8 375.1,30.2 376.0,36.6 377.1,43.0 378.3,49.4 379.7,55.7 381.3,62.0 383.0,68.3 384.9,74.5 386.9,80.7" fill="#418f33" stroke="#2e6624" stroke-width="0.5"/>
<polygon points="391.0,82.9 388.5,78.1 386.1,73.2 383.8,68.2 381.7,63.3 379.7,58.2 377.8,53.1 376.0,48.0 374.3,42.9 372.5,37.7 370.3,32.5 370.5,38.1 371.4,43.6 372.7,49.0 374.1,54.4 375.8,59.6 377.7,64.9 379.8,70.0 382.0,75.1 384.4,80.1 387.0,85.1" fill="#4d9c39" stroke="#377029" stroke-width="0.5"/>
<polygon points="389.5,86.6 386.0,82.8 382.8,79.0 379.6,75.0 376.5,70.9 373.6,66.8 370.7,62.7 367.9,58.4 365.2,54.1 362.5,49.7 359.4,45.5 360.8,50.6 362.9,55.3 365.2,60.0 367.8,64.5 370.5,68.9 373.4,73.2 376.5,77.4 379.7,81.5 383.0,85.5 386.5,89.4" fill="#418f33" stroke="#2e6624" stroke-width="0.5"/>
<polygon points="390.0,94.3 386.4,92.0 382.9,89.7 379.4,87.2 375.9,84.7 372.6,82.1 369.2,79.5 365.9,76.8 362.7,74.0 359.3,71.3 355.7,68.8 358.0,72.6 360.8,75.9 363.8,79.1 367.0,82.1 370.2,85.0 373.6,87.8 377.1,90.4 380.6,92.9 384.2,95.4 388.0,97.7" fill="#418f33" stroke="#2e6624" stroke-width="0.5"/>
<polygon points="389.0,98.5 386.6,97.0 384.3,95.4 382.0,93.7 379.7,92.0 377.5,90.3 375.3,88.6 373.0,86.9 370.8,85.1 368.5,83.4 365.9,82.0 367.4,84.6 369.2,86.8 371.2,88.9 373.3,90.9 375.5,92.8 377.7,94.7 379.9,96.5 382.3,98.2 384.6,99.9 387.0,101.5" fill="#4d9c39" stroke="#377029" stroke-width="0.5"/>
<polygon points="400.8,61.8 403.3,59.2 405.8,56.6 408.2,53.9 410.5,51.2 412.7,48.3 414.8,45.4 416.8,42.4 418.6,39.3 420.2,36.1 421.2,32.5 418.3,34.8 415.9,37.5 413.6,40.1 411.4,42.8 409.1,45.4 406.8,48.1 404.5,50.6 402.1,53.2 399.7,55.7 397.2,58.2" fill="#4d9c39" stroke="#377029" stroke-width="0.5"/>
<polygon points="401.1,67.4 404.0,65.2 406.8,62.8 409.6,60.5 412.3,58.0 414.9,55.5 417.5,52.9 420.0,50.2 422.3,47.4 424.5,44.5 426.3,41.2 423.3,43.4 420.6,45.9 418.0,48.3 415.4,50.7 412.7,53.2 410.1,55.5 407.3,57.9 404.6,60.2 401.8,62.4 398.9,64.6" fill="#418f33" stroke="#2e6624" stroke-width="0.5"/>
<polygon points="400.2,71.6 403.2,69.2 406.2,66.8 409.1,64.3 411.9,61.7 414.6,59.1 417.3,56.3 419.8,53.5 422.2,50.5 424.5,47.5 426.3,44.0 423.1,46.3 420.3,48.8 417.6,51.3 414.8,53.9 412.1,56.4 409.3,58.9 406.5,61.3 403.6,63.7 400.7,66.1 397.8,68.4" fill="#4d9c39" stroke="#377029" stroke-width="0.5"/>
<polygon points="401.8,56.9 402.8,55.0 403.8,53.1 404.8,51.2 405.8,49.2 406.8,47.3 407.7,45.3 408.6,43.3 409.4,41.3 410.1,39.2 410.3,36.8 408.5,38.3 407.1,40.0 405.8,41.8 404.7,43.7 403.5,45.5 402.4,47.4 401.4,49.3 400.3,51.2 399.3,53.1 398.2,55.1" fill="#5fa845" stroke="#447831" stroke-width="0.5"/>
<polygon points="398.5,85.7 400.3,84.1 402.0,82.5 403.8,81.0 405.6,79.4 407.4,77.8 409.1,76.2 410.8,74.6 412.5,72.9 414.1,71.1 415.4,68.8 412.9,69.4 410.7,70.6 408.7,71.8 406.7,73.2 404.7,74.6 402.8,76.1 400.9,77.6 399.1,79.1 397.3,80.7 395.5,82.3" fill="#4d9c39" stroke="#377029" stroke-width="0.5"/>
<polygon points="397.7,95.0 398.7,93.4 399.7,91.7 400.7,90.1 401.6,88.4 402.5,86.7 403.4,85.0 404.3,83.2 405.0,81.5 405.7,79.6 405.9,77.5 404.1,78.7 402.8,80.1 401.6,81.7 400.5,83.2 399.4,84.8 398.3,86.4 397.3,88.0 396.3,89.7 395.3,91.3 394.3,93.0" fill="#4d9c39" stroke="#377029" stroke-width="0.5"/>
<path d="M384,95 L384.5,68 Q386,38 399,17 Q405,42 401.5,70 L400,100 L403,125 L405,150 L404,163 L398,171 L391,165 L388,145 L388,120 Z" fill="#4d9c39"/>
<polygon points="401.5,72.7 401.6,67.1 401.7,61.6 401.7,56.1 401.7,50.5 401.6,45.0 401.5,39.4 401.3,33.8 401.0,28.3 400.5,22.7 399.0,17.0 396.5,22.3 395.0,27.7 393.7,33.2 392.5,38.6 391.4,44.0 390.3,49.5 389.3,54.9 388.3,60.4 387.4,65.9 386.5,71.3" fill="#5fa845" stroke="#447831" stroke-width="0.5"/>
<polygon points="389.9,114.2 387.2,112.8 384.6,111.4 382.0,109.9 379.4,108.3 376.8,106.7 374.3,105.1 371.8,103.4 369.2,101.8 366.6,100.1 363.7,98.8 365.4,101.5 367.6,103.8 369.9,105.9 372.3,107.9 374.7,109.8 377.3,111.5 379.9,113.2 382.6,114.8 385.3,116.3 388.1,117.8" fill="#4d9c39" stroke="#377029" stroke-width="0.5"/>
<polygon points="392.5,134.9 391.3,133.2 390.0,131.7 388.7,130.1 387.3,128.6 385.9,127.2 384.4,125.8 382.9,124.4 381.3,123.2 379.6,122.1 377.5,121.4 378.4,123.4 379.6,125.0 380.8,126.5 382.1,128.1 383.3,129.6 384.6,131.0 385.8,132.5 387.1,134.1 388.3,135.6 389.5,137.1" fill="#418f33" stroke="#2e6624" stroke-width="0.5"/>
<polygon points="393.3,142.3 392.5,140.8 391.7,139.4 390.9,138.0 390.1,136.5 389.2,135.1 388.3,133.7 387.4,132.4 386.5,131.0 385.4,129.7 384.0,128.6 384.2,130.4 384.7,132.0 385.4,133.5 386.1,135.0 386.8,136.5 387.5,137.9 388.3,139.4 389.1,140.8 389.9,142.3 390.7,143.7" fill="#4d9c39" stroke="#377029" stroke-width="0.5"/>
<polygon points="400.7,108.8 401.6,107.0 402.5,105.1 403.4,103.2 404.2,101.4 405.1,99.5 405.9,97.6 406.6,95.6 407.3,93.7 407.9,91.6 408.0,89.4 406.3,90.9 405.1,92.6 404.0,94.3 402.9,96.1 401.9,97.9 401.0,99.8 400.0,101.6 399.1,103.5 398.2,105.3 397.3,107.2" fill="#4d9c39" stroke="#377029" stroke-width="0.5"/>
<polygon points="401.8,128.7 402.4,126.9 403.1,125.2 403.7,123.4 404.3,121.6 404.9,119.9 405.5,118.1 406.0,116.3 406.4,114.4 406.8,112.6 406.6,110.5 405.1,111.9 404.1,113.6 403.2,115.2 402.4,116.9 401.7,118.6 400.9,120.4 400.2,122.1 399.6,123.8 398.9,125.6 398.2,127.3" fill="#4d9c39" stroke="#377029" stroke-width="0.5"/>
<polygon points="403.7,141.4 404.1,139.5 404.5,137.6 404.9,135.7 405.2,133.7 405.6,131.8 405.9,129.9 406.1,128.0 406.3,126.0 406.4,124.1 406.0,122.0 404.8,123.7 404.1,125.6 403.5,127.4 402.9,129.3 402.4,131.2 402.0,133.1 401.5,134.9 401.1,136.8 400.7,138.7 400.3,140.6" fill="#5fa845" stroke="#447831" stroke-width="0.5"/>
<polygon points="403.6,154.7 404.1,153.5 404.7,152.2 405.2,151.0 405.7,149.8 406.2,148.5 406.6,147.2 407.0,145.9 407.4,144.6 407.6,143.3 407.4,141.7 406.1,142.6 405.3,143.7 404.5,144.8 403.9,146.0 403.2,147.2 402.6,148.4 402.0,149.6 401.5,150.8 400.9,152.1 400.4,153.3" fill="#5fa845" stroke="#447831" stroke-width="0.5"/>
<polygon points="394.0,75.1 394.1,70.6 394.2,66.1 394.3,61.6 394.3,57.1 394.3,52.6 394.2,48.1 394.0,43.6 393.8,39.0 393.3,34.5 392.0,30.0 390.5,34.5 389.8,39.0 389.4,43.4 389.0,47.9 388.7,52.4 388.5,56.9 388.3,61.4 388.2,65.9 388.1,70.4 388.0,74.9" fill="#418f33" stroke="#2e6624" stroke-width="0.5"/>
<path d="M390.0,157.5 Q389.0,150.0 393.5,148.0 Q398.0,146.0 401.5,149.0 Q405.0,152.0 404.5,157.5 Q404.0,163.0 401.0,167.5 Q398.0,172.0 394.5,168.5 Q391.0,165.0 390.0,157.5 Z" fill="#92b064" opacity="0.9"/>
<polygon points="384.0,148.0 390.0,146.0 392.0,156.0 390.0,168.0 387.0,171.0 385.0,160.0" fill="#4a3c32"/>
<circle cx="403.7" cy="157.7" r="1.2" fill="#d08a4a"/>
<polygon points="471.6,88.9 469.4,85.5 467.1,82.1 465.0,78.6 462.9,75.2 460.8,71.7 458.7,68.2 456.7,64.6 454.7,61.1 452.6,57.6 450.1,54.2 450.9,58.3 452.3,62.2 453.9,66.0 455.7,69.8 457.6,73.5 459.5,77.1 461.6,80.7 463.8,84.2 466.0,87.7 468.4,91.1" fill="#3a8530" stroke="#295f22" stroke-width="0.5"/>
<polygon points="473.7,85.3 472.7,81.6 471.8,77.9 470.8,74.2 469.8,70.5 468.7,66.9 467.6,63.2 466.4,59.6 465.1,56.0 463.7,52.4 461.5,49.0 461.2,53.0 461.7,56.8 462.3,60.6 463.0,64.4 463.8,68.1 464.6,71.9 465.5,75.6 466.4,79.3 467.4,83.0 468.3,86.7" fill="#5aa048" stroke="#407333" stroke-width="0.5"/>
<polygon points="474.5,83.6 473.9,79.4 473.3,75.2 472.6,71.1 472.0,66.9 471.3,62.7 470.5,58.5 469.7,54.3 468.8,50.2 467.7,46.0 466.0,42.0 465.5,46.4 465.6,50.6 465.9,54.9 466.3,59.1 466.7,63.3 467.2,67.5 467.8,71.7 468.3,76.0 468.9,80.2 469.5,84.4" fill="#45933a" stroke="#316929" stroke-width="0.5"/>
<polygon points="476.7,81.8 476.4,77.4 476.0,73.0 475.6,68.7 475.2,64.3 474.8,59.9 474.3,55.6 473.7,51.2 473.0,46.9 472.1,42.6 470.5,38.3 469.6,42.8 469.4,47.2 469.4,51.6 469.5,56.0 469.7,60.4 470.0,64.7 470.3,69.1 470.6,73.5 470.9,77.8 471.3,82.2" fill="#45933a" stroke="#316929" stroke-width="0.5"/>
<polygon points="478.5,82.0 478.6,77.9 478.6,73.8 478.7,69.7 478.7,65.6 478.7,61.4 478.6,57.3 478.5,53.2 478.3,49.1 477.9,44.9 476.8,40.8 475.6,44.9 475.0,49.0 474.6,53.1 474.3,57.2 474.1,61.4 473.9,65.5 473.8,69.6 473.7,73.7 473.6,77.8 473.5,82.0" fill="#5aa048" stroke="#407333" stroke-width="0.5"/>
<polygon points="480.5,82.4 481.0,78.9 481.5,75.4 482.0,71.9 482.5,68.4 482.9,64.9 483.3,61.4 483.6,57.9 483.8,54.4 483.8,50.8 483.2,47.2 481.6,50.5 480.6,53.9 479.7,57.4 479.0,60.8 478.3,64.3 477.7,67.7 477.1,71.2 476.6,74.7 476.0,78.2 475.5,81.6" fill="#45933a" stroke="#316929" stroke-width="0.5"/>
<polygon points="481.2,80.7 482.3,76.8 483.5,73.0 484.7,69.1 485.8,65.2 486.9,61.4 487.9,57.5 488.9,53.6 489.8,49.6 490.6,45.7 490.8,41.5 488.6,45.0 487.0,48.8 485.6,52.5 484.2,56.3 482.9,60.1 481.7,64.0 480.4,67.8 479.2,71.6 478.0,75.5 476.8,79.3" fill="#3a8530" stroke="#295f22" stroke-width="0.5"/>
<polygon points="481.7,67.0 483.6,65.6 485.5,64.1 487.3,62.6 489.1,61.0 490.9,59.4 492.6,57.8 494.2,56.1 495.8,54.3 497.3,52.5 498.5,50.4 496.5,51.7 494.6,53.2 492.9,54.7 491.1,56.2 489.3,57.7 487.5,59.2 485.7,60.7 483.9,62.1 482.1,63.6 480.3,65.0" fill="#3a8530" stroke="#295f22" stroke-width="0.5"/>
<polygon points="481.6,70.9 483.8,69.4 486.0,67.8 488.1,66.2 490.2,64.6 492.2,62.9 494.3,61.2 496.2,59.4 498.2,57.6 500.0,55.7 501.6,53.5 499.3,54.9 497.2,56.5 495.1,58.1 493.1,59.7 491.0,61.3 488.9,62.9 486.8,64.5 484.7,66.1 482.5,67.6 480.4,69.1" fill="#3a8530" stroke="#295f22" stroke-width="0.5"/>
<polygon points="482.7,77.0 485.5,74.8 488.3,72.7 491.0,70.5 493.7,68.3 496.3,66.0 498.9,63.7 501.5,61.3 504.0,58.8 506.4,56.3 508.6,53.5 505.7,55.5 503.0,57.7 500.3,59.9 497.6,62.1 494.9,64.3 492.2,66.5 489.5,68.7 486.8,70.8 484.0,72.9 481.3,75.0" fill="#3a8530" stroke="#295f22" stroke-width="0.5"/>
<polygon points="480.0,83.0 482.9,82.8 485.8,82.6 488.7,82.2 491.5,81.6 494.3,81.0 497.0,80.1 499.7,79.2 502.4,78.1 505.0,76.8 507.4,75.2 504.6,76.0 501.9,76.9 499.2,77.7 496.5,78.5 493.8,79.2 491.1,79.7 488.4,80.2 485.6,80.6 482.8,80.8 480.0,81.0" fill="#6a6a3a" stroke="#4c4c29" stroke-width="0.5"/>
<polygon points="480.0,89.4 481.6,88.3 483.3,87.1 484.8,85.8 486.4,84.5 487.9,83.2 489.3,81.8 490.7,80.4 492.0,78.8 493.2,77.2 494.0,75.2 492.1,76.1 490.4,77.2 488.8,78.4 487.3,79.6 485.8,80.8 484.2,81.9 482.7,83.1 481.2,84.3 479.6,85.4 478.0,86.6" fill="#45933a" stroke="#316929" stroke-width="0.5"/>
<polygon points="467.7,92.4 465.9,91.5 464.1,90.6 462.4,89.7 460.6,88.8 458.8,87.8 457.1,86.8 455.3,85.9 453.5,84.9 451.6,84.1 449.5,83.5 450.7,85.4 452.2,86.8 453.8,88.1 455.4,89.4 457.2,90.6 458.9,91.7 460.7,92.7 462.5,93.7 464.4,94.7 466.3,95.6" fill="#3a8530" stroke="#295f22" stroke-width="0.5"/>
<polygon points="481.9,108.5 483.6,107.5 485.2,106.4 486.9,105.3 488.5,104.2 490.0,102.9 491.5,101.7 493.0,100.3 494.3,98.9 495.6,97.4 496.5,95.5 494.5,96.2 492.9,97.2 491.2,98.2 489.7,99.3 488.1,100.4 486.5,101.4 484.9,102.5 483.3,103.5 481.7,104.5 480.1,105.5" fill="#45933a" stroke="#316929" stroke-width="0.5"/>
<polygon points="470.2,108.7 469.0,107.6 467.8,106.6 466.6,105.5 465.4,104.5 464.1,103.5 462.9,102.5 461.6,101.6 460.2,100.7 458.8,99.9 457.1,99.4 457.8,101.1 458.7,102.4 459.8,103.6 460.9,104.8 462.0,105.9 463.1,107.0 464.3,108.1 465.5,109.2 466.6,110.2 467.8,111.3" fill="#3a8530" stroke="#295f22" stroke-width="0.5"/>
<path d="M466.0,83.5 Q464.0,72.0 472.0,71.0 Q480.0,70.0 480.5,82.5 Q481.0,95.0 484.5,105.0 Q488.0,115.0 489.0,127.5 Q490.0,140.0 490.0,150.0 Q490.0,160.0 487.0,165.0 Q484.0,170.0 479.0,171.0 Q474.0,172.0 471.0,168.5 Q468.0,165.0 468.0,152.5 Q468.0,140.0 468.5,127.5 Q469.0,115.0 468.5,105.0 Q468.0,95.0 466.0,83.5 Z" fill="#45933a"/>
<polygon points="471.5,112.6 470.2,111.3 469.0,110.0 467.8,108.6 466.5,107.3 465.2,106.1 463.9,104.8 462.5,103.6 461.1,102.4 459.6,101.3 457.7,100.6 458.3,102.6 459.2,104.2 460.2,105.7 461.3,107.1 462.5,108.5 463.7,109.9 464.9,111.3 466.1,112.7 467.3,114.0 468.5,115.4" fill="#45933a" stroke="#316929" stroke-width="0.5"/>
<polygon points="472.7,128.0 471.9,126.6 471.1,125.1 470.2,123.7 469.4,122.3 468.5,120.9 467.6,119.5 466.6,118.2 465.6,116.8 464.4,115.6 462.8,114.6 462.8,116.5 463.3,118.1 463.9,119.7 464.6,121.2 465.3,122.7 466.0,124.2 466.8,125.7 467.6,127.1 468.4,128.5 469.3,130.0" fill="#5aa048" stroke="#407333" stroke-width="0.5"/>
<polygon points="472.7,145.0 472.0,143.7 471.2,142.4 470.5,141.1 469.7,139.8 468.8,138.6 468.0,137.3 467.1,136.1 466.1,135.0 465.0,133.8 463.5,133.0 463.5,134.8 463.9,136.2 464.4,137.7 465.0,139.1 465.7,140.4 466.3,141.8 467.0,143.1 467.8,144.4 468.5,145.7 469.3,147.0" fill="#45933a" stroke="#316929" stroke-width="0.5"/>
<polygon points="473.5,164.2 473.0,163.2 472.5,162.1 471.9,161.1 471.3,160.1 470.7,159.1 470.1,158.1 469.4,157.2 468.7,156.2 467.8,155.4 466.6,154.7 466.4,156.1 466.7,157.3 467.0,158.4 467.4,159.5 467.9,160.6 468.4,161.7 468.9,162.7 469.4,163.7 469.9,164.8 470.5,165.8" fill="#7a8a40" stroke="#57632e" stroke-width="0.5"/>
<polygon points="486.5,120.3 487.6,119.0 488.7,117.8 489.8,116.5 490.8,115.2 491.8,113.9 492.8,112.6 493.8,111.2 494.7,109.8 495.5,108.3 495.9,106.4 494.1,107.1 492.7,108.1 491.5,109.2 490.2,110.3 489.1,111.5 487.9,112.7 486.8,113.9 485.7,115.2 484.6,116.4 483.5,117.7" fill="#45933a" stroke="#316929" stroke-width="0.5"/>
<polygon points="488.3,137.5 489.6,136.4 490.9,135.3 492.1,134.1 493.4,133.0 494.6,131.8 495.8,130.6 496.9,129.3 498.0,128.0 499.0,126.6 499.7,124.8 497.8,125.2 496.3,126.1 494.9,127.0 493.5,128.0 492.1,129.0 490.8,130.1 489.5,131.2 488.2,132.3 486.9,133.4 485.7,134.5" fill="#45933a" stroke="#316929" stroke-width="0.5"/>
<polygon points="488.5,147.4 489.7,146.0 491.0,144.7 492.2,143.3 493.5,141.9 494.7,140.5 495.9,139.1 497.0,137.6 498.1,136.1 499.1,134.5 499.7,132.5 497.8,133.2 496.2,134.3 494.8,135.5 493.4,136.7 492.0,138.0 490.7,139.3 489.4,140.6 488.1,141.9 486.8,143.3 485.5,144.6" fill="#5aa048" stroke="#407333" stroke-width="0.5"/>
<polygon points="486.5,164.9 487.1,163.9 487.7,162.9 488.2,161.9 488.8,160.8 489.3,159.8 489.8,158.8 490.2,157.7 490.6,156.6 490.9,155.4 490.8,154.0 489.5,154.6 488.7,155.4 487.9,156.3 487.2,157.2 486.5,158.2 485.9,159.2 485.3,160.1 484.7,161.1 484.1,162.1 483.5,163.1" fill="#45933a" stroke="#316929" stroke-width="0.5"/>
<polygon points="477.0,109.9 476.8,104.9 476.6,99.9 476.3,94.9 476.1,89.9 475.8,84.9 475.4,79.9 474.9,74.9 474.3,69.9 473.6,64.9 472.0,60.0 470.8,65.1 470.5,70.1 470.3,75.1 470.2,80.1 470.2,85.1 470.3,90.1 470.5,95.1 470.6,100.1 470.8,105.1 471.0,110.1" fill="#5aa048" stroke="#407333" stroke-width="0.5"/>
<path d="M469.5,163.0 Q470.0,160.0 476.5,159.0 Q483.0,158.0 485.5,160.5 Q488.0,163.0 485.5,167.0 Q483.0,171.0 479.0,171.5 Q475.0,172.0 472.0,169.0 Q469.0,166.0 469.5,163.0 Z" fill="#7a8a50" opacity="0.8"/>
<polygon points="479.5,171.7 479.2,169.5 478.9,167.3 478.5,165.1 478.2,162.9 477.8,160.7 477.3,158.5 476.8,156.3 476.2,154.2 475.4,152.0 474.0,150.0 473.2,152.4 473.0,154.6 473.0,156.9 473.1,159.1 473.2,161.3 473.4,163.5 473.7,165.7 473.9,167.9 474.2,170.1 474.5,172.3" fill="#6a8a48" stroke="#4c6333" stroke-width="0.5"/>
<polygon points="482.5,172.4 482.9,170.2 483.2,168.0 483.6,165.8 484.0,163.6 484.3,161.4 484.5,159.2 484.7,156.9 484.8,154.7 484.7,152.4 484.0,150.0 482.5,152.0 481.6,154.1 480.9,156.3 480.3,158.4 479.7,160.6 479.2,162.8 478.8,165.0 478.4,167.2 477.9,169.4 477.5,171.6" fill="#5a8a40" stroke="#40632e" stroke-width="0.5"/>
<path d="M480.5,126.0 Q480.0,112.0 482.5,111.0 Q485.0,110.0 486.0,120.0 Q487.0,130.0 486.0,140.0 Q485.0,150.0 483.0,145.0 Q481.0,140.0 480.5,126.0 Z" fill="#7a7040" opacity="0.3"/>
<text transform="translate(128,186.3) scale(1.13,1)" text-anchor="middle" font-size="11.2" fill="#111" stroke="#111" stroke-width="0.12">Comp</text>
<text transform="translate(225.3,186.8) scale(1.13,1)" text-anchor="middle" font-size="11.2" fill="#111" stroke="#111" stroke-width="0.12">B</text>
<text transform="translate(304.8,186.3) scale(1.13,1)" text-anchor="middle" font-size="11.2" fill="#111" stroke="#111" stroke-width="0.12">G</text>
<text transform="translate(399.8,186.8) scale(1.13,1)" text-anchor="middle" font-size="11.2" fill="#111" stroke="#111" stroke-width="0.12">R</text>
<text transform="translate(480.5,186.8) scale(1.13,1)" text-anchor="middle" font-size="11.2" fill="#111" stroke="#111" stroke-width="0.12">W</text>
<rect x="81.20" y="280.80" width="18.10" height="70.90" fill="url(#pBlue)" stroke="#111" stroke-width="1"/>
<line x1="90.25" y1="278.12" x2="90.25" y2="280.80" stroke="#222" stroke-width="1"/>
<line x1="90.25" y1="280.80" x2="90.25" y2="283.47" stroke="#555" stroke-width="1"/>
<line x1="88.65" y1="278.12" x2="91.85" y2="278.12" stroke="#222" stroke-width="1"/>
<line x1="88.65" y1="283.47" x2="91.85" y2="283.47" stroke="#555" stroke-width="1"/>
<text x="90.25" y="273.62" text-anchor="middle" font-size="10.5" fill="#5a5a5a">b</text>
<clipPath id="hc1"><rect x="99.30" y="311.91" width="18.10" height="39.79"/></clipPath><g clip-path="url(#hc1)"><rect x="99.30" y="311.91" width="18.10" height="39.79" fill="#fff"/><path d="M52.76,311.91L54.76,311.91L94.55,351.70L92.55,351.70ZM56.31,311.91L58.31,311.91L98.10,351.70L96.10,351.70ZM59.86,311.91L61.86,311.91L101.65,351.70L99.65,351.70ZM63.41,311.91L65.41,311.91L105.20,351.70L103.20,351.70ZM66.96,311.91L68.96,311.91L108.75,351.70L106.75,351.70ZM70.51,311.91L72.51,311.91L112.30,351.70L110.30,351.70ZM74.06,311.91L76.06,311.91L115.85,351.70L113.85,351.70ZM77.61,311.91L79.61,311.91L119.40,351.70L117.40,351.70ZM81.16,311.91L83.16,311.91L122.95,351.70L120.95,351.70ZM84.71,311.91L86.71,311.91L126.50,351.70L124.50,351.70ZM88.26,311.91L90.26,311.91L130.05,351.70L128.05,351.70ZM91.81,311.91L93.81,311.91L133.60,351.70L131.60,351.70ZM95.36,311.91L97.36,311.91L137.15,351.70L135.15,351.70ZM98.91,311.91L100.91,311.91L140.70,351.70L138.70,351.70ZM102.46,311.91L104.46,311.91L144.25,351.70L142.25,351.70ZM106.01,311.91L108.01,311.91L147.80,351.70L145.80,351.70ZM109.56,311.91L111.56,311.91L151.35,351.70L149.35,351.70ZM113.11,311.91L115.11,311.91L154.90,351.70L152.90,351.70ZM116.66,311.91L118.66,311.91L158.45,351.70L156.45,351.70ZM120.21,311.91L122.21,311.91L162.00,351.70L160.00,351.70ZM123.76,311.91L125.76,311.91L165.55,351.70L163.55,351.70Z" fill="#000"/></g><rect x="99.30" y="311.91" width="18.10" height="39.79" fill="none" stroke="#111" stroke-width="1"/>
<line x1="108.35" y1="311.18" x2="108.35" y2="311.91" stroke="#222" stroke-width="1"/>
<line x1="108.35" y1="311.91" x2="108.35" y2="312.63" stroke="#555" stroke-width="1"/>
<line x1="106.75" y1="311.18" x2="109.95" y2="311.18" stroke="#222" stroke-width="1"/>
<line x1="106.75" y1="312.63" x2="109.95" y2="312.63" stroke="#555" stroke-width="1"/>
<text x="108.35" y="304.18" text-anchor="middle" font-size="10.5" fill="#5a5a5a">b</text>
<rect x="117.40" y="225.09" width="18.10" height="126.61" fill="url(#pDot)" stroke="#111" stroke-width="1"/>
<line x1="124.75" y1="224.49" x2="128.15" y2="224.49" stroke="#000" stroke-width="1.5"/>
<text x="126.45" y="217.73" text-anchor="middle" font-size="10.5" fill="#5a5a5a">a</text>
<clipPath id="hc2"><rect x="135.50" y="308.29" width="18.10" height="43.41"/></clipPath><g clip-path="url(#hc2)"><rect x="135.50" y="308.29" width="18.10" height="43.41" fill="#fff"/><path d="M131.91,308.29L133.91,308.29L90.50,351.70L88.50,351.70ZM135.46,308.29L137.46,308.29L94.05,351.70L92.05,351.70ZM139.01,308.29L141.01,308.29L97.60,351.70L95.60,351.70ZM142.56,308.29L144.56,308.29L101.15,351.70L99.15,351.70ZM146.11,308.29L148.11,308.29L104.70,351.70L102.70,351.70ZM149.66,308.29L151.66,308.29L108.25,351.70L106.25,351.70ZM153.21,308.29L155.21,308.29L111.80,351.70L109.80,351.70ZM156.76,308.29L158.76,308.29L115.35,351.70L113.35,351.70ZM160.31,308.29L162.31,308.29L118.90,351.70L116.90,351.70ZM163.86,308.29L165.86,308.29L122.45,351.70L120.45,351.70ZM167.41,308.29L169.41,308.29L126.00,351.70L124.00,351.70ZM170.96,308.29L172.96,308.29L129.55,351.70L127.55,351.70ZM174.51,308.29L176.51,308.29L133.10,351.70L131.10,351.70ZM178.06,308.29L180.06,308.29L136.65,351.70L134.65,351.70ZM181.61,308.29L183.61,308.29L140.20,351.70L138.20,351.70ZM185.16,308.29L187.16,308.29L143.75,351.70L141.75,351.70ZM188.71,308.29L190.71,308.29L147.30,351.70L145.30,351.70ZM192.26,308.29L194.26,308.29L150.85,351.70L148.85,351.70ZM195.81,308.29L197.81,308.29L154.40,351.70L152.40,351.70ZM199.36,308.29L201.36,308.29L157.95,351.70L155.95,351.70ZM202.91,308.29L204.91,308.29L161.50,351.70L159.50,351.70Z" fill="#000"/></g><rect x="135.50" y="308.29" width="18.10" height="43.41" fill="none" stroke="#111" stroke-width="1"/>
<line x1="142.85" y1="307.69" x2="146.25" y2="307.69" stroke="#000" stroke-width="1.5"/>
<text x="144.55" y="298.50" text-anchor="middle" font-weight="bold" font-size="10.5" fill="#333">c</text>
<rect x="175.60" y="268.50" width="18.10" height="83.20" fill="url(#pBlue)" stroke="#111" stroke-width="1"/>
<line x1="184.65" y1="267.05" x2="184.65" y2="268.50" stroke="#222" stroke-width="1"/>
<line x1="184.65" y1="268.50" x2="184.65" y2="269.94" stroke="#555" stroke-width="1"/>
<line x1="183.05" y1="267.05" x2="186.25" y2="267.05" stroke="#222" stroke-width="1"/>
<line x1="183.05" y1="269.94" x2="186.25" y2="269.94" stroke="#555" stroke-width="1"/>
<text x="184.65" y="260.05" text-anchor="middle" font-size="10.5" fill="#5a5a5a">a</text>
<clipPath id="hc3"><rect x="193.70" y="298.88" width="18.10" height="52.82"/></clipPath><g clip-path="url(#hc3)"><rect x="193.70" y="298.88" width="18.10" height="52.82" fill="#fff"/><path d="M135.58,298.88L137.58,298.88L190.40,351.70L188.40,351.70ZM139.13,298.88L141.13,298.88L193.95,351.70L191.95,351.70ZM142.68,298.88L144.68,298.88L197.50,351.70L195.50,351.70ZM146.23,298.88L148.23,298.88L201.05,351.70L199.05,351.70ZM149.78,298.88L151.78,298.88L204.60,351.70L202.60,351.70ZM153.33,298.88L155.33,298.88L208.15,351.70L206.15,351.70ZM156.88,298.88L158.88,298.88L211.70,351.70L209.70,351.70ZM160.43,298.88L162.43,298.88L215.25,351.70L213.25,351.70ZM163.98,298.88L165.98,298.88L218.80,351.70L216.80,351.70ZM167.53,298.88L169.53,298.88L222.35,351.70L220.35,351.70ZM171.08,298.88L173.08,298.88L225.90,351.70L223.90,351.70ZM174.63,298.88L176.63,298.88L229.45,351.70L227.45,351.70ZM178.18,298.88L180.18,298.88L233.00,351.70L231.00,351.70ZM181.73,298.88L183.73,298.88L236.55,351.70L234.55,351.70ZM185.28,298.88L187.28,298.88L240.10,351.70L238.10,351.70ZM188.83,298.88L190.83,298.88L243.65,351.70L241.65,351.70ZM192.38,298.88L194.38,298.88L247.20,351.70L245.20,351.70ZM195.93,298.88L197.93,298.88L250.75,351.70L248.75,351.70ZM199.48,298.88L201.48,298.88L254.30,351.70L252.30,351.70ZM203.03,298.88L205.03,298.88L257.85,351.70L255.85,351.70ZM206.58,298.88L208.58,298.88L261.40,351.70L259.40,351.70ZM210.13,298.88L212.13,298.88L264.95,351.70L262.95,351.70ZM213.68,298.88L215.68,298.88L268.50,351.70L266.50,351.70ZM217.23,298.88L219.23,298.88L272.05,351.70L270.05,351.70Z" fill="#000"/></g><rect x="193.70" y="298.88" width="18.10" height="52.82" fill="none" stroke="#111" stroke-width="1"/>
<line x1="201.05" y1="298.28" x2="204.45" y2="298.28" stroke="#000" stroke-width="1.5"/>
<text x="202.75" y="291.52" text-anchor="middle" font-size="10.5" fill="#5a5a5a">a</text>
<rect x="211.80" y="237.39" width="18.10" height="114.31" fill="url(#pDot)" stroke="#111" stroke-width="1"/>
<line x1="219.15" y1="236.79" x2="222.55" y2="236.79" stroke="#000" stroke-width="1.5"/>
<text x="220.85" y="230.03" text-anchor="middle" font-size="10.5" fill="#5a5a5a">b</text>
<clipPath id="hc4"><rect x="229.90" y="312.63" width="18.10" height="39.07"/></clipPath><g clip-path="url(#hc4)"><rect x="229.90" y="312.63" width="18.10" height="39.07" fill="#fff"/><path d="M223.42,312.63L225.42,312.63L186.35,351.70L184.35,351.70ZM226.97,312.63L228.97,312.63L189.90,351.70L187.90,351.70ZM230.52,312.63L232.52,312.63L193.45,351.70L191.45,351.70ZM234.07,312.63L236.07,312.63L197.00,351.70L195.00,351.70ZM237.62,312.63L239.62,312.63L200.55,351.70L198.55,351.70ZM241.17,312.63L243.17,312.63L204.10,351.70L202.10,351.70ZM244.72,312.63L246.72,312.63L207.65,351.70L205.65,351.70ZM248.27,312.63L250.27,312.63L211.20,351.70L209.20,351.70ZM251.82,312.63L253.82,312.63L214.75,351.70L212.75,351.70ZM255.37,312.63L257.37,312.63L218.30,351.70L216.30,351.70ZM258.92,312.63L260.92,312.63L221.85,351.70L219.85,351.70ZM262.47,312.63L264.47,312.63L225.40,351.70L223.40,351.70ZM266.02,312.63L268.02,312.63L228.95,351.70L226.95,351.70ZM269.57,312.63L271.57,312.63L232.50,351.70L230.50,351.70ZM273.12,312.63L275.12,312.63L236.05,351.70L234.05,351.70ZM276.67,312.63L278.67,312.63L239.60,351.70L237.60,351.70ZM280.22,312.63L282.22,312.63L243.15,351.70L241.15,351.70ZM283.77,312.63L285.77,312.63L246.70,351.70L244.70,351.70ZM287.32,312.63L289.32,312.63L250.25,351.70L248.25,351.70ZM290.87,312.63L292.87,312.63L253.80,351.70L251.80,351.70Z" fill="#000"/></g><rect x="229.90" y="312.63" width="18.10" height="39.07" fill="none" stroke="#111" stroke-width="1"/>
<line x1="237.25" y1="312.03" x2="240.65" y2="312.03" stroke="#000" stroke-width="1.5"/>
<text x="238.95" y="305.27" text-anchor="middle" font-size="10.5" fill="#5a5a5a">d</text>
<rect x="270.10" y="299.90" width="18.10" height="51.80" fill="url(#pBlue)" stroke="#111" stroke-width="1"/>
<line x1="279.15" y1="297.73" x2="279.15" y2="299.90" stroke="#222" stroke-width="1"/>
<line x1="279.15" y1="299.90" x2="279.15" y2="302.07" stroke="#555" stroke-width="1"/>
<line x1="277.55" y1="297.73" x2="280.75" y2="297.73" stroke="#222" stroke-width="1"/>
<line x1="277.55" y1="302.07" x2="280.75" y2="302.07" stroke="#555" stroke-width="1"/>
<text x="279.15" y="293.23" text-anchor="middle" font-size="10.5" fill="#5a5a5a">c</text>
<clipPath id="hc5"><rect x="288.20" y="319.50" width="18.10" height="32.20"/></clipPath><g clip-path="url(#hc5)"><rect x="288.20" y="319.50" width="18.10" height="32.20" fill="#fff"/><path d="M252.05,319.50L254.05,319.50L286.25,351.70L284.25,351.70ZM255.60,319.50L257.60,319.50L289.80,351.70L287.80,351.70ZM259.15,319.50L261.15,319.50L293.35,351.70L291.35,351.70ZM262.70,319.50L264.70,319.50L296.90,351.70L294.90,351.70ZM266.25,319.50L268.25,319.50L300.45,351.70L298.45,351.70ZM269.80,319.50L271.80,319.50L304.00,351.70L302.00,351.70ZM273.35,319.50L275.35,319.50L307.55,351.70L305.55,351.70ZM276.90,319.50L278.90,319.50L311.10,351.70L309.10,351.70ZM280.45,319.50L282.45,319.50L314.65,351.70L312.65,351.70ZM284.00,319.50L286.00,319.50L318.20,351.70L316.20,351.70ZM287.55,319.50L289.55,319.50L321.75,351.70L319.75,351.70ZM291.10,319.50L293.10,319.50L325.30,351.70L323.30,351.70ZM294.65,319.50L296.65,319.50L328.85,351.70L326.85,351.70ZM298.20,319.50L300.20,319.50L332.40,351.70L330.40,351.70ZM301.75,319.50L303.75,319.50L335.95,351.70L333.95,351.70ZM305.30,319.50L307.30,319.50L339.50,351.70L337.50,351.70ZM308.85,319.50L310.85,319.50L343.05,351.70L341.05,351.70ZM312.40,319.50L314.40,319.50L346.60,351.70L344.60,351.70Z" fill="#000"/></g><rect x="288.20" y="319.50" width="18.10" height="32.20" fill="none" stroke="#111" stroke-width="1"/>
<line x1="295.55" y1="318.90" x2="298.95" y2="318.90" stroke="#000" stroke-width="1.5"/>
<text x="297.25" y="312.14" text-anchor="middle" font-size="10.5" fill="#5a5a5a">c</text>
<rect x="306.30" y="235.43" width="18.10" height="116.27" fill="url(#pDot)" stroke="#111" stroke-width="1"/>
<line x1="313.65" y1="234.83" x2="317.05" y2="234.83" stroke="#000" stroke-width="1.5"/>
<text x="315.35" y="228.07" text-anchor="middle" font-size="10.5" fill="#5a5a5a">a</text>
<clipPath id="hc6"><rect x="324.40" y="300.33" width="18.10" height="51.37"/></clipPath><g clip-path="url(#hc6)"><rect x="324.40" y="300.33" width="18.10" height="51.37" fill="#fff"/><path d="M317.37,300.33L319.37,300.33L268.00,351.70L266.00,351.70ZM320.92,300.33L322.92,300.33L271.55,351.70L269.55,351.70ZM324.47,300.33L326.47,300.33L275.10,351.70L273.10,351.70ZM328.02,300.33L330.02,300.33L278.65,351.70L276.65,351.70ZM331.57,300.33L333.57,300.33L282.20,351.70L280.20,351.70ZM335.12,300.33L337.12,300.33L285.75,351.70L283.75,351.70ZM338.67,300.33L340.67,300.33L289.30,351.70L287.30,351.70ZM342.22,300.33L344.22,300.33L292.85,351.70L290.85,351.70ZM345.77,300.33L347.77,300.33L296.40,351.70L294.40,351.70ZM349.32,300.33L351.32,300.33L299.95,351.70L297.95,351.70ZM352.87,300.33L354.87,300.33L303.50,351.70L301.50,351.70ZM356.42,300.33L358.42,300.33L307.05,351.70L305.05,351.70ZM359.97,300.33L361.97,300.33L310.60,351.70L308.60,351.70ZM363.52,300.33L365.52,300.33L314.15,351.70L312.15,351.70ZM367.07,300.33L369.07,300.33L317.70,351.70L315.70,351.70ZM370.62,300.33L372.62,300.33L321.25,351.70L319.25,351.70ZM374.17,300.33L376.17,300.33L324.80,351.70L322.80,351.70ZM377.72,300.33L379.72,300.33L328.35,351.70L326.35,351.70ZM381.27,300.33L383.27,300.33L331.90,351.70L329.90,351.70ZM384.82,300.33L386.82,300.33L335.45,351.70L333.45,351.70ZM388.37,300.33L390.37,300.33L339.00,351.70L337.00,351.70ZM391.92,300.33L393.92,300.33L342.55,351.70L340.55,351.70ZM395.47,300.33L397.47,300.33L346.10,351.70L344.10,351.70ZM399.02,300.33L401.02,300.33L349.65,351.70L347.65,351.70Z" fill="#000"/></g><rect x="324.40" y="300.33" width="18.10" height="51.37" fill="none" stroke="#111" stroke-width="1"/>
<line x1="331.75" y1="299.73" x2="335.15" y2="299.73" stroke="#000" stroke-width="1.5"/>
<text x="333.45" y="292.97" text-anchor="middle" font-size="10.5" fill="#5a5a5a">b</text>
<rect x="364.50" y="296.21" width="18.10" height="55.49" fill="url(#pBlue)" stroke="#111" stroke-width="1"/>
<line x1="373.55" y1="295.12" x2="373.55" y2="296.21" stroke="#222" stroke-width="1"/>
<line x1="373.55" y1="296.21" x2="373.55" y2="297.29" stroke="#555" stroke-width="1"/>
<line x1="371.95" y1="295.12" x2="375.15" y2="295.12" stroke="#222" stroke-width="1"/>
<line x1="371.95" y1="297.29" x2="375.15" y2="297.29" stroke="#555" stroke-width="1"/>
<text x="373.55" y="288.12" text-anchor="middle" font-size="10.5" fill="#5a5a5a">c</text>
<clipPath id="hc7"><rect x="382.60" y="301.27" width="18.10" height="50.43"/></clipPath><g clip-path="url(#hc7)"><rect x="382.60" y="301.27" width="18.10" height="50.43" fill="#fff"/><path d="M326.12,301.27L328.12,301.27L378.55,351.70L376.55,351.70ZM329.67,301.27L331.67,301.27L382.10,351.70L380.10,351.70ZM333.22,301.27L335.22,301.27L385.65,351.70L383.65,351.70ZM336.77,301.27L338.77,301.27L389.20,351.70L387.20,351.70ZM340.32,301.27L342.32,301.27L392.75,351.70L390.75,351.70ZM343.87,301.27L345.87,301.27L396.30,351.70L394.30,351.70ZM347.42,301.27L349.42,301.27L399.85,351.70L397.85,351.70ZM350.97,301.27L352.97,301.27L403.40,351.70L401.40,351.70ZM354.52,301.27L356.52,301.27L406.95,351.70L404.95,351.70ZM358.07,301.27L360.07,301.27L410.50,351.70L408.50,351.70ZM361.62,301.27L363.62,301.27L414.05,351.70L412.05,351.70ZM365.17,301.27L367.17,301.27L417.60,351.70L415.60,351.70ZM368.72,301.27L370.72,301.27L421.15,351.70L419.15,351.70ZM372.27,301.27L374.27,301.27L424.70,351.70L422.70,351.70ZM375.82,301.27L377.82,301.27L428.25,351.70L426.25,351.70ZM379.37,301.27L381.37,301.27L431.80,351.70L429.80,351.70ZM382.92,301.27L384.92,301.27L435.35,351.70L433.35,351.70ZM386.47,301.27L388.47,301.27L438.90,351.70L436.90,351.70ZM390.02,301.27L392.02,301.27L442.45,351.70L440.45,351.70ZM393.57,301.27L395.57,301.27L446.00,351.70L444.00,351.70ZM397.12,301.27L399.12,301.27L449.55,351.70L447.55,351.70ZM400.67,301.27L402.67,301.27L453.10,351.70L451.10,351.70ZM404.22,301.27L406.22,301.27L456.65,351.70L454.65,351.70ZM407.77,301.27L409.77,301.27L460.20,351.70L458.20,351.70Z" fill="#000"/></g><rect x="382.60" y="301.27" width="18.10" height="50.43" fill="none" stroke="#111" stroke-width="1"/>
<line x1="389.95" y1="300.67" x2="393.35" y2="300.67" stroke="#000" stroke-width="1.5"/>
<text x="391.65" y="293.91" text-anchor="middle" font-size="10.5" fill="#5a5a5a">a</text>
<rect x="400.70" y="272.48" width="18.10" height="79.22" fill="url(#pDot)" stroke="#111" stroke-width="1"/>
<line x1="409.75" y1="270.31" x2="409.75" y2="272.48" stroke="#222" stroke-width="1"/>
<line x1="409.75" y1="272.48" x2="409.75" y2="274.65" stroke="#555" stroke-width="1"/>
<line x1="408.15" y1="270.31" x2="411.35" y2="270.31" stroke="#222" stroke-width="1"/>
<line x1="408.15" y1="274.65" x2="411.35" y2="274.65" stroke="#555" stroke-width="1"/>
<text x="409.75" y="265.81" text-anchor="middle" font-size="10.5" fill="#5a5a5a">d</text>
<clipPath id="hc8"><rect x="418.80" y="287.53" width="18.10" height="64.17"/></clipPath><g clip-path="url(#hc8)"><rect x="418.80" y="287.53" width="18.10" height="64.17" fill="#fff"/><path d="M411.82,287.53L413.82,287.53L349.65,351.70L347.65,351.70ZM415.37,287.53L417.37,287.53L353.20,351.70L351.20,351.70ZM418.92,287.53L420.92,287.53L356.75,351.70L354.75,351.70ZM422.47,287.53L424.47,287.53L360.30,351.70L358.30,351.70ZM426.02,287.53L428.02,287.53L363.85,351.70L361.85,351.70ZM429.57,287.53L431.57,287.53L367.40,351.70L365.40,351.70ZM433.12,287.53L435.12,287.53L370.95,351.70L368.95,351.70ZM436.67,287.53L438.67,287.53L374.50,351.70L372.50,351.70ZM440.22,287.53L442.22,287.53L378.05,351.70L376.05,351.70ZM443.77,287.53L445.77,287.53L381.60,351.70L379.60,351.70ZM447.32,287.53L449.32,287.53L385.15,351.70L383.15,351.70ZM450.87,287.53L452.87,287.53L388.70,351.70L386.70,351.70ZM454.42,287.53L456.42,287.53L392.25,351.70L390.25,351.70ZM457.97,287.53L459.97,287.53L395.80,351.70L393.80,351.70ZM461.52,287.53L463.52,287.53L399.35,351.70L397.35,351.70ZM465.07,287.53L467.07,287.53L402.90,351.70L400.90,351.70ZM468.62,287.53L470.62,287.53L406.45,351.70L404.45,351.70ZM472.17,287.53L474.17,287.53L410.00,351.70L408.00,351.70ZM475.72,287.53L477.72,287.53L413.55,351.70L411.55,351.70ZM479.27,287.53L481.27,287.53L417.10,351.70L415.10,351.70ZM482.82,287.53L484.82,287.53L420.65,351.70L418.65,351.70ZM486.37,287.53L488.37,287.53L424.20,351.70L422.20,351.70ZM489.92,287.53L491.92,287.53L427.75,351.70L425.75,351.70ZM493.47,287.53L495.47,287.53L431.30,351.70L429.30,351.70ZM497.02,287.53L499.02,287.53L434.85,351.70L432.85,351.70ZM500.57,287.53L502.57,287.53L438.40,351.70L436.40,351.70ZM504.12,287.53L506.12,287.53L441.95,351.70L439.95,351.70ZM507.67,287.53L509.67,287.53L445.50,351.70L443.50,351.70Z" fill="#000"/></g><rect x="418.80" y="287.53" width="18.10" height="64.17" fill="none" stroke="#111" stroke-width="1"/>
<line x1="427.85" y1="286.44" x2="427.85" y2="287.53" stroke="#222" stroke-width="1"/>
<line x1="427.85" y1="287.53" x2="427.85" y2="288.61" stroke="#555" stroke-width="1"/>
<line x1="426.25" y1="286.44" x2="429.45" y2="286.44" stroke="#222" stroke-width="1"/>
<line x1="426.25" y1="288.61" x2="429.45" y2="288.61" stroke="#555" stroke-width="1"/>
<text x="427.85" y="279.44" text-anchor="middle" font-size="10.5" fill="#5a5a5a">a</text>
<rect x="458.70" y="287.09" width="18.10" height="64.61" fill="url(#pBlue)" stroke="#111" stroke-width="1"/>
<line x1="467.75" y1="284.92" x2="467.75" y2="287.09" stroke="#222" stroke-width="1"/>
<line x1="467.75" y1="287.09" x2="467.75" y2="289.26" stroke="#555" stroke-width="1"/>
<line x1="466.15" y1="284.92" x2="469.35" y2="284.92" stroke="#222" stroke-width="1"/>
<line x1="466.15" y1="289.26" x2="469.35" y2="289.26" stroke="#555" stroke-width="1"/>
<text x="467.75" y="280.42" text-anchor="middle" font-size="10.5" fill="#5a5a5a">b</text>
<clipPath id="hc9"><rect x="476.80" y="307.42" width="18.10" height="44.28"/></clipPath><g clip-path="url(#hc9)"><rect x="476.80" y="307.42" width="18.10" height="44.28" fill="#fff"/><path d="M428.12,307.42L430.12,307.42L474.40,351.70L472.40,351.70ZM431.67,307.42L433.67,307.42L477.95,351.70L475.95,351.70ZM435.22,307.42L437.22,307.42L481.50,351.70L479.50,351.70ZM438.77,307.42L440.77,307.42L485.05,351.70L483.05,351.70ZM442.32,307.42L444.32,307.42L488.60,351.70L486.60,351.70ZM445.87,307.42L447.87,307.42L492.15,351.70L490.15,351.70ZM449.42,307.42L451.42,307.42L495.70,351.70L493.70,351.70ZM452.97,307.42L454.97,307.42L499.25,351.70L497.25,351.70ZM456.52,307.42L458.52,307.42L502.80,351.70L500.80,351.70ZM460.07,307.42L462.07,307.42L506.35,351.70L504.35,351.70ZM463.62,307.42L465.62,307.42L509.90,351.70L507.90,351.70ZM467.17,307.42L469.17,307.42L513.45,351.70L511.45,351.70ZM470.72,307.42L472.72,307.42L517.00,351.70L515.00,351.70ZM474.27,307.42L476.27,307.42L520.55,351.70L518.55,351.70ZM477.82,307.42L479.82,307.42L524.10,351.70L522.10,351.70ZM481.37,307.42L483.37,307.42L527.65,351.70L525.65,351.70ZM484.92,307.42L486.92,307.42L531.20,351.70L529.20,351.70ZM488.47,307.42L490.47,307.42L534.75,351.70L532.75,351.70ZM492.02,307.42L494.02,307.42L538.30,351.70L536.30,351.70ZM495.57,307.42L497.57,307.42L541.85,351.70L539.85,351.70ZM499.12,307.42L501.12,307.42L545.40,351.70L543.40,351.70Z" fill="#000"/></g><rect x="476.80" y="307.42" width="18.10" height="44.28" fill="none" stroke="#111" stroke-width="1"/>
<line x1="484.15" y1="306.82" x2="487.55" y2="306.82" stroke="#000" stroke-width="1.5"/>
<text x="485.85" y="300.06" text-anchor="middle" font-size="10.5" fill="#5a5a5a">b</text>
<rect x="494.90" y="245.13" width="18.10" height="106.57" fill="url(#pDot)" stroke="#111" stroke-width="1"/>
<line x1="503.95" y1="244.04" x2="503.95" y2="245.13" stroke="#222" stroke-width="1"/>
<line x1="503.95" y1="245.13" x2="503.95" y2="246.21" stroke="#555" stroke-width="1"/>
<line x1="502.35" y1="244.04" x2="505.55" y2="244.04" stroke="#222" stroke-width="1"/>
<line x1="502.35" y1="246.21" x2="505.55" y2="246.21" stroke="#555" stroke-width="1"/>
<text x="503.95" y="237.04" text-anchor="middle" font-size="10.5" fill="#5a5a5a">c</text>
<clipPath id="hc10"><rect x="513.00" y="310.03" width="18.10" height="41.67"/></clipPath><g clip-path="url(#hc10)"><rect x="513.00" y="310.03" width="18.10" height="41.67" fill="#fff"/><path d="M506.47,310.03L508.47,310.03L466.80,351.70L464.80,351.70ZM510.02,310.03L512.02,310.03L470.35,351.70L468.35,351.70ZM513.57,310.03L515.57,310.03L473.90,351.70L471.90,351.70ZM517.12,310.03L519.12,310.03L477.45,351.70L475.45,351.70ZM520.67,310.03L522.67,310.03L481.00,351.70L479.00,351.70ZM524.22,310.03L526.22,310.03L484.55,351.70L482.55,351.70ZM527.77,310.03L529.77,310.03L488.10,351.70L486.10,351.70ZM531.32,310.03L533.32,310.03L491.65,351.70L489.65,351.70ZM534.87,310.03L536.87,310.03L495.20,351.70L493.20,351.70ZM538.42,310.03L540.42,310.03L498.75,351.70L496.75,351.70ZM541.97,310.03L543.97,310.03L502.30,351.70L500.30,351.70ZM545.52,310.03L547.52,310.03L505.85,351.70L503.85,351.70ZM549.07,310.03L551.07,310.03L509.40,351.70L507.40,351.70ZM552.62,310.03L554.62,310.03L512.95,351.70L510.95,351.70ZM556.17,310.03L558.17,310.03L516.50,351.70L514.50,351.70ZM559.72,310.03L561.72,310.03L520.05,351.70L518.05,351.70ZM563.27,310.03L565.27,310.03L523.60,351.70L521.60,351.70ZM566.82,310.03L568.82,310.03L527.15,351.70L525.15,351.70ZM570.37,310.03L572.37,310.03L530.70,351.70L528.70,351.70ZM573.92,310.03L575.92,310.03L534.25,351.70L532.25,351.70ZM577.47,310.03L579.47,310.03L537.80,351.70L535.80,351.70Z" fill="#000"/></g><rect x="513.00" y="310.03" width="18.10" height="41.67" fill="none" stroke="#111" stroke-width="1"/>
<line x1="520.35" y1="309.43" x2="523.75" y2="309.43" stroke="#000" stroke-width="1.5"/>
<text x="522.05" y="302.66" text-anchor="middle" font-size="10.5" fill="#5a5a5a">cd</text>
<rect x="70.50" y="207.00" width="472.00" height="144.70" fill="none" stroke="#1a1a1a" stroke-width="1.2"/>
<text x="62.5" y="355.50" text-anchor="end" font-size="10.8" fill="#5a5a5a">0.0</text>
<line x1="70.50" y1="322.76" x2="74.00" y2="322.76" stroke="#1a1a1a" stroke-width="1"/>
<text x="62.5" y="326.56" text-anchor="end" font-size="10.8" fill="#5a5a5a">0.4</text>
<line x1="70.50" y1="293.82" x2="74.00" y2="293.82" stroke="#1a1a1a" stroke-width="1"/>
<text x="62.5" y="297.62" text-anchor="end" font-size="10.8" fill="#5a5a5a">0.8</text>
<line x1="70.50" y1="264.88" x2="74.00" y2="264.88" stroke="#1a1a1a" stroke-width="1"/>
<text x="62.5" y="268.68" text-anchor="end" font-size="10.8" fill="#5a5a5a">1.2</text>
<line x1="70.50" y1="235.94" x2="74.00" y2="235.94" stroke="#1a1a1a" stroke-width="1"/>
<text x="62.5" y="239.74" text-anchor="end" font-size="10.8" fill="#5a5a5a">1.6</text>
<text x="62.5" y="210.80" text-anchor="end" font-size="10.8" fill="#5a5a5a">2.0</text>
<rect x="159.5" y="211.5" width="7" height="7" fill="url(#pBlue)" stroke="#222" stroke-width="1"/>
<text x="170" y="219" font-size="10.5" fill="#2a2a2a">Chl a (mg g<tspan font-size="6.5" dy="-4">-1</tspan><tspan dy="4">)</tspan></text>
<clipPath id="hc31"><rect x="246.00" y="211.50" width="7.00" height="7.00"/></clipPath><g clip-path="url(#hc31)"><rect x="246.00" y="211.50" width="7.00" height="7.00" fill="#fff"/><path d="M232.80,211.50L234.80,211.50L241.80,218.50L239.80,218.50ZM236.35,211.50L238.35,211.50L245.35,218.50L243.35,218.50ZM239.90,211.50L241.90,211.50L248.90,218.50L246.90,218.50ZM243.45,211.50L245.45,211.50L252.45,218.50L250.45,218.50ZM247.00,211.50L249.00,211.50L256.00,218.50L254.00,218.50ZM250.55,211.50L252.55,211.50L259.55,218.50L257.55,218.50ZM254.10,211.50L256.10,211.50L263.10,218.50L261.10,218.50ZM257.65,211.50L259.65,211.50L266.65,218.50L264.65,218.50Z" fill="#000"/></g><rect x="246.00" y="211.50" width="7.00" height="7.00" fill="none" stroke="#111" stroke-width="1"/>
<text x="256" y="219" font-size="10.5" fill="#2a2a2a">Chl b (mg g<tspan font-size="6.5" dy="-4">-1</tspan><tspan dy="4">)</tspan></text>
<rect x="331" y="211.5" width="7" height="7" fill="url(#pDot)" stroke="#222" stroke-width="1"/>
<text x="343.5" y="219" font-size="10.5" fill="#2a2a2a">Chl a/b</text>
<clipPath id="hc32"><rect x="390.50" y="211.50" width="7.00" height="7.00"/></clipPath><g clip-path="url(#hc32)"><rect x="390.50" y="211.50" width="7.00" height="7.00" fill="#fff"/><path d="M384.90,211.50L386.90,211.50L379.90,218.50L377.90,218.50ZM388.45,211.50L390.45,211.50L383.45,218.50L381.45,218.50ZM392.00,211.50L394.00,211.50L387.00,218.50L385.00,218.50ZM395.55,211.50L397.55,211.50L390.55,218.50L388.55,218.50ZM399.10,211.50L401.10,211.50L394.10,218.50L392.10,218.50ZM402.65,211.50L404.65,211.50L397.65,218.50L395.65,218.50ZM406.20,211.50L408.20,211.50L401.20,218.50L399.20,218.50ZM409.75,211.50L411.75,211.50L404.75,218.50L402.75,218.50Z" fill="#000"/></g><rect x="390.50" y="211.50" width="7.00" height="7.00" fill="none" stroke="#111" stroke-width="1"/>
<text x="404" y="219" font-size="10.1" fill="#2a2a2a">Carotenoid</text>
<text x="459" y="219" font-size="10.5" fill="#2a2a2a"><tspan font-size="13" fill="#555">×</tspan>100 (μg g<tspan font-size="6.5" dy="-4">-1</tspan><tspan dy="4">)</tspan></text>
<rect x="73.70" y="423.61" width="17.20" height="87.89" fill="url(#pBlue)" stroke="#111" stroke-width="1"/>
<line x1="82.30" y1="422.93" x2="82.30" y2="423.61" stroke="#222" stroke-width="1"/>
<line x1="82.30" y1="423.61" x2="82.30" y2="424.29" stroke="#555" stroke-width="1"/>
<line x1="80.70" y1="422.93" x2="83.90" y2="422.93" stroke="#222" stroke-width="1"/>
<line x1="80.70" y1="424.29" x2="83.90" y2="424.29" stroke="#555" stroke-width="1"/>
<text x="82.30" y="416.73" text-anchor="middle" font-size="10.5" fill="#5a5a5a">c</text>
<clipPath id="hc11"><rect x="90.90" y="425.43" width="17.20" height="86.07"/></clipPath><g clip-path="url(#hc11)"><rect x="90.90" y="425.43" width="17.20" height="86.07" fill="#fff"/><path d="M-0.57,425.43L1.43,425.43L87.50,511.50L85.50,511.50ZM2.98,425.43L4.98,425.43L91.05,511.50L89.05,511.50ZM6.53,425.43L8.53,425.43L94.60,511.50L92.60,511.50ZM10.08,425.43L12.08,425.43L98.15,511.50L96.15,511.50ZM13.63,425.43L15.63,425.43L101.70,511.50L99.70,511.50ZM17.18,425.43L19.18,425.43L105.25,511.50L103.25,511.50ZM20.73,425.43L22.73,425.43L108.80,511.50L106.80,511.50ZM24.28,425.43L26.28,425.43L112.35,511.50L110.35,511.50ZM27.83,425.43L29.83,425.43L115.90,511.50L113.90,511.50ZM31.38,425.43L33.38,425.43L119.45,511.50L117.45,511.50ZM34.93,425.43L36.93,425.43L123.00,511.50L121.00,511.50ZM38.48,425.43L40.48,425.43L126.55,511.50L124.55,511.50ZM42.03,425.43L44.03,425.43L130.10,511.50L128.10,511.50ZM45.58,425.43L47.58,425.43L133.65,511.50L131.65,511.50ZM49.13,425.43L51.13,425.43L137.20,511.50L135.20,511.50ZM52.68,425.43L54.68,425.43L140.75,511.50L138.75,511.50ZM56.23,425.43L58.23,425.43L144.30,511.50L142.30,511.50ZM59.78,425.43L61.78,425.43L147.85,511.50L145.85,511.50ZM63.33,425.43L65.33,425.43L151.40,511.50L149.40,511.50ZM66.88,425.43L68.88,425.43L154.95,511.50L152.95,511.50ZM70.43,425.43L72.43,425.43L158.50,511.50L156.50,511.50ZM73.98,425.43L75.98,425.43L162.05,511.50L160.05,511.50ZM77.53,425.43L79.53,425.43L165.60,511.50L163.60,511.50ZM81.08,425.43L83.08,425.43L169.15,511.50L167.15,511.50ZM84.63,425.43L86.63,425.43L172.70,511.50L170.70,511.50ZM88.18,425.43L90.18,425.43L176.25,511.50L174.25,511.50ZM91.73,425.43L93.73,425.43L179.80,511.50L177.80,511.50ZM95.28,425.43L97.28,425.43L183.35,511.50L181.35,511.50ZM98.83,425.43L100.83,425.43L186.90,511.50L184.90,511.50ZM102.38,425.43L104.38,425.43L190.45,511.50L188.45,511.50ZM105.93,425.43L107.93,425.43L194.00,511.50L192.00,511.50ZM109.48,425.43L111.48,425.43L197.55,511.50L195.55,511.50ZM113.03,425.43L115.03,425.43L201.10,511.50L199.10,511.50Z" fill="#000"/></g><rect x="90.90" y="425.43" width="17.20" height="86.07" fill="none" stroke="#111" stroke-width="1"/>
<line x1="97.80" y1="424.83" x2="101.20" y2="424.83" stroke="#000" stroke-width="1.5"/>
<text x="99.50" y="418.78" text-anchor="middle" font-size="10.5" fill="#5a5a5a">d</text>
<rect x="108.10" y="488.28" width="17.20" height="23.22" fill="url(#pDot)" stroke="#111" stroke-width="1"/>
<line x1="115.00" y1="487.68" x2="118.40" y2="487.68" stroke="#000" stroke-width="1.5"/>
<text x="116.70" y="482.08" text-anchor="middle" font-size="10.5" fill="#5a5a5a">a</text>
<clipPath id="hc12"><rect x="125.30" y="495.11" width="17.20" height="16.39"/></clipPath><g clip-path="url(#hc12)"><rect x="125.30" y="495.11" width="17.20" height="16.39" fill="#fff"/><path d="M119.04,495.11L121.04,495.11L104.65,511.50L102.65,511.50ZM122.59,495.11L124.59,495.11L108.20,511.50L106.20,511.50ZM126.14,495.11L128.14,495.11L111.75,511.50L109.75,511.50ZM129.69,495.11L131.69,495.11L115.30,511.50L113.30,511.50ZM133.24,495.11L135.24,495.11L118.85,511.50L116.85,511.50ZM136.79,495.11L138.79,495.11L122.40,511.50L120.40,511.50ZM140.34,495.11L142.34,495.11L125.95,511.50L123.95,511.50ZM143.89,495.11L145.89,495.11L129.50,511.50L127.50,511.50ZM147.44,495.11L149.44,495.11L133.05,511.50L131.05,511.50ZM150.99,495.11L152.99,495.11L136.60,511.50L134.60,511.50ZM154.54,495.11L156.54,495.11L140.15,511.50L138.15,511.50ZM158.09,495.11L160.09,495.11L143.70,511.50L141.70,511.50ZM161.64,495.11L163.64,495.11L147.25,511.50L145.25,511.50ZM165.19,495.11L167.19,495.11L150.80,511.50L148.80,511.50Z" fill="#000"/></g><rect x="125.30" y="495.11" width="17.20" height="16.39" fill="none" stroke="#111" stroke-width="1"/>
<line x1="132.20" y1="494.51" x2="135.60" y2="494.51" stroke="#000" stroke-width="1.5"/>
<text x="133.90" y="488.91" text-anchor="middle" font-size="10.5" fill="#5a5a5a">a</text>
<rect x="142.50" y="483.49" width="17.20" height="28.01" fill="url(#pChk)" stroke="#111" stroke-width="1"/>
<line x1="149.40" y1="482.89" x2="152.80" y2="482.89" stroke="#000" stroke-width="1.5"/>
<text x="151.10" y="477.29" text-anchor="middle" font-size="10.5" fill="#5a5a5a">b</text>
<rect x="168.30" y="413.82" width="17.20" height="97.68" fill="url(#pBlue)" stroke="#111" stroke-width="1"/>
<line x1="176.90" y1="413.14" x2="176.90" y2="413.82" stroke="#222" stroke-width="1"/>
<line x1="176.90" y1="413.82" x2="176.90" y2="414.50" stroke="#555" stroke-width="1"/>
<line x1="175.30" y1="413.14" x2="178.50" y2="413.14" stroke="#222" stroke-width="1"/>
<line x1="175.30" y1="414.50" x2="178.50" y2="414.50" stroke="#555" stroke-width="1"/>
<text x="176.90" y="406.94" text-anchor="middle" font-size="10.5" fill="#5a5a5a">b</text>
<clipPath id="hc13"><rect x="185.50" y="414.05" width="17.20" height="97.45"/></clipPath><g clip-path="url(#hc13)"><rect x="185.50" y="414.05" width="17.20" height="97.45" fill="#fff"/><path d="M83.90,414.05L85.90,414.05L183.35,511.50L181.35,511.50ZM87.45,414.05L89.45,414.05L186.90,511.50L184.90,511.50ZM91.00,414.05L93.00,414.05L190.45,511.50L188.45,511.50ZM94.55,414.05L96.55,414.05L194.00,511.50L192.00,511.50ZM98.10,414.05L100.10,414.05L197.55,511.50L195.55,511.50ZM101.65,414.05L103.65,414.05L201.10,511.50L199.10,511.50ZM105.20,414.05L107.20,414.05L204.65,511.50L202.65,511.50ZM108.75,414.05L110.75,414.05L208.20,511.50L206.20,511.50ZM112.30,414.05L114.30,414.05L211.75,511.50L209.75,511.50ZM115.85,414.05L117.85,414.05L215.30,511.50L213.30,511.50ZM119.40,414.05L121.40,414.05L218.85,511.50L216.85,511.50ZM122.95,414.05L124.95,414.05L222.40,511.50L220.40,511.50ZM126.50,414.05L128.50,414.05L225.95,511.50L223.95,511.50ZM130.05,414.05L132.05,414.05L229.50,511.50L227.50,511.50ZM133.60,414.05L135.60,414.05L233.05,511.50L231.05,511.50ZM137.15,414.05L139.15,414.05L236.60,511.50L234.60,511.50ZM140.70,414.05L142.70,414.05L240.15,511.50L238.15,511.50ZM144.25,414.05L146.25,414.05L243.70,511.50L241.70,511.50ZM147.80,414.05L149.80,414.05L247.25,511.50L245.25,511.50ZM151.35,414.05L153.35,414.05L250.80,511.50L248.80,511.50ZM154.90,414.05L156.90,414.05L254.35,511.50L252.35,511.50ZM158.45,414.05L160.45,414.05L257.90,511.50L255.90,511.50ZM162.00,414.05L164.00,414.05L261.45,511.50L259.45,511.50ZM165.55,414.05L167.55,414.05L265.00,511.50L263.00,511.50ZM169.10,414.05L171.10,414.05L268.55,511.50L266.55,511.50ZM172.65,414.05L174.65,414.05L272.10,511.50L270.10,511.50ZM176.20,414.05L178.20,414.05L275.65,511.50L273.65,511.50ZM179.75,414.05L181.75,414.05L279.20,511.50L277.20,511.50ZM183.30,414.05L185.30,414.05L282.75,511.50L280.75,511.50ZM186.85,414.05L188.85,414.05L286.30,511.50L284.30,511.50ZM190.40,414.05L192.40,414.05L289.85,511.50L287.85,511.50ZM193.95,414.05L195.95,414.05L293.40,511.50L291.40,511.50ZM197.50,414.05L199.50,414.05L296.95,511.50L294.95,511.50ZM201.05,414.05L203.05,414.05L300.50,511.50L298.50,511.50ZM204.60,414.05L206.60,414.05L304.05,511.50L302.05,511.50ZM208.15,414.05L210.15,414.05L307.60,511.50L305.60,511.50Z" fill="#000"/></g><rect x="185.50" y="414.05" width="17.20" height="97.45" fill="none" stroke="#111" stroke-width="1"/>
<line x1="194.10" y1="413.36" x2="194.10" y2="414.05" stroke="#222" stroke-width="1"/>
<line x1="194.10" y1="414.05" x2="194.10" y2="414.73" stroke="#555" stroke-width="1"/>
<line x1="192.50" y1="413.36" x2="195.70" y2="413.36" stroke="#222" stroke-width="1"/>
<line x1="192.50" y1="414.73" x2="195.70" y2="414.73" stroke="#555" stroke-width="1"/>
<text x="194.10" y="407.16" text-anchor="middle" font-size="10.5" fill="#5a5a5a">c</text>
<rect x="202.70" y="490.32" width="17.20" height="21.18" fill="url(#pDot)" stroke="#111" stroke-width="1"/>
<line x1="209.60" y1="489.72" x2="213.00" y2="489.72" stroke="#000" stroke-width="1.5"/>
<text x="211.30" y="484.12" text-anchor="middle" font-size="10.5" fill="#5a5a5a">b</text>
<clipPath id="hc14"><rect x="219.90" y="497.61" width="17.20" height="13.89"/></clipPath><g clip-path="url(#hc14)"><rect x="219.90" y="497.61" width="17.20" height="13.89" fill="#fff"/><path d="M215.94,497.61L217.94,497.61L204.05,511.50L202.05,511.50ZM219.49,497.61L221.49,497.61L207.60,511.50L205.60,511.50ZM223.04,497.61L225.04,497.61L211.15,511.50L209.15,511.50ZM226.59,497.61L228.59,497.61L214.70,511.50L212.70,511.50ZM230.14,497.61L232.14,497.61L218.25,511.50L216.25,511.50ZM233.69,497.61L235.69,497.61L221.80,511.50L219.80,511.50ZM237.24,497.61L239.24,497.61L225.35,511.50L223.35,511.50ZM240.79,497.61L242.79,497.61L228.90,511.50L226.90,511.50ZM244.34,497.61L246.34,497.61L232.45,511.50L230.45,511.50ZM247.89,497.61L249.89,497.61L236.00,511.50L234.00,511.50ZM251.44,497.61L253.44,497.61L239.55,511.50L237.55,511.50ZM254.99,497.61L256.99,497.61L243.10,511.50L241.10,511.50Z" fill="#000"/></g><rect x="219.90" y="497.61" width="17.20" height="13.89" fill="none" stroke="#111" stroke-width="1"/>
<line x1="226.80" y1="497.01" x2="230.20" y2="497.01" stroke="#000" stroke-width="1.5"/>
<text x="228.50" y="491.41" text-anchor="middle" font-size="10.5" fill="#5a5a5a">b</text>
<rect x="237.10" y="486.23" width="17.20" height="25.27" fill="url(#pChk)" stroke="#111" stroke-width="1"/>
<line x1="244.00" y1="485.63" x2="247.40" y2="485.63" stroke="#000" stroke-width="1.5"/>
<text x="245.70" y="480.03" text-anchor="middle" font-size="10.5" fill="#5a5a5a">d</text>
<rect x="263.30" y="422.70" width="17.20" height="88.80" fill="url(#pBlue)" stroke="#111" stroke-width="1"/>
<line x1="270.20" y1="422.10" x2="273.60" y2="422.10" stroke="#000" stroke-width="1.5"/>
<text x="271.90" y="416.50" text-anchor="middle" font-size="10.5" fill="#5a5a5a">c</text>
<clipPath id="hc15"><rect x="280.50" y="388.55" width="17.20" height="122.95"/></clipPath><g clip-path="url(#hc15)"><rect x="280.50" y="388.55" width="17.20" height="122.95" fill="#fff"/><path d="M150.70,388.55L152.70,388.55L275.65,511.50L273.65,511.50ZM154.25,388.55L156.25,388.55L279.20,511.50L277.20,511.50ZM157.80,388.55L159.80,388.55L282.75,511.50L280.75,511.50ZM161.35,388.55L163.35,388.55L286.30,511.50L284.30,511.50ZM164.90,388.55L166.90,388.55L289.85,511.50L287.85,511.50ZM168.45,388.55L170.45,388.55L293.40,511.50L291.40,511.50ZM172.00,388.55L174.00,388.55L296.95,511.50L294.95,511.50ZM175.55,388.55L177.55,388.55L300.50,511.50L298.50,511.50ZM179.10,388.55L181.10,388.55L304.05,511.50L302.05,511.50ZM182.65,388.55L184.65,388.55L307.60,511.50L305.60,511.50ZM186.20,388.55L188.20,388.55L311.15,511.50L309.15,511.50ZM189.75,388.55L191.75,388.55L314.70,511.50L312.70,511.50ZM193.30,388.55L195.30,388.55L318.25,511.50L316.25,511.50ZM196.85,388.55L198.85,388.55L321.80,511.50L319.80,511.50ZM200.40,388.55L202.40,388.55L325.35,511.50L323.35,511.50ZM203.95,388.55L205.95,388.55L328.90,511.50L326.90,511.50ZM207.50,388.55L209.50,388.55L332.45,511.50L330.45,511.50ZM211.05,388.55L213.05,388.55L336.00,511.50L334.00,511.50ZM214.60,388.55L216.60,388.55L339.55,511.50L337.55,511.50ZM218.15,388.55L220.15,388.55L343.10,511.50L341.10,511.50ZM221.70,388.55L223.70,388.55L346.65,511.50L344.65,511.50ZM225.25,388.55L227.25,388.55L350.20,511.50L348.20,511.50ZM228.80,388.55L230.80,388.55L353.75,511.50L351.75,511.50ZM232.35,388.55L234.35,388.55L357.30,511.50L355.30,511.50ZM235.90,388.55L237.90,388.55L360.85,511.50L358.85,511.50ZM239.45,388.55L241.45,388.55L364.40,511.50L362.40,511.50ZM243.00,388.55L245.00,388.55L367.95,511.50L365.95,511.50ZM246.55,388.55L248.55,388.55L371.50,511.50L369.50,511.50ZM250.10,388.55L252.10,388.55L375.05,511.50L373.05,511.50ZM253.65,388.55L255.65,388.55L378.60,511.50L376.60,511.50ZM257.20,388.55L259.20,388.55L382.15,511.50L380.15,511.50ZM260.75,388.55L262.75,388.55L385.70,511.50L383.70,511.50ZM264.30,388.55L266.30,388.55L389.25,511.50L387.25,511.50ZM267.85,388.55L269.85,388.55L392.80,511.50L390.80,511.50ZM271.40,388.55L273.40,388.55L396.35,511.50L394.35,511.50ZM274.95,388.55L276.95,388.55L399.90,511.50L397.90,511.50ZM278.50,388.55L280.50,388.55L403.45,511.50L401.45,511.50ZM282.05,388.55L284.05,388.55L407.00,511.50L405.00,511.50ZM285.60,388.55L287.60,388.55L410.55,511.50L408.55,511.50ZM289.15,388.55L291.15,388.55L414.10,511.50L412.10,511.50ZM292.70,388.55L294.70,388.55L417.65,511.50L415.65,511.50ZM296.25,388.55L298.25,388.55L421.20,511.50L419.20,511.50ZM299.80,388.55L301.80,388.55L424.75,511.50L422.75,511.50ZM303.35,388.55L305.35,388.55L428.30,511.50L426.30,511.50Z" fill="#000"/></g><rect x="280.50" y="388.55" width="17.20" height="122.95" fill="none" stroke="#111" stroke-width="1"/>
<line x1="287.40" y1="387.95" x2="290.80" y2="387.95" stroke="#000" stroke-width="1.5"/>
<text x="289.10" y="382.35" text-anchor="middle" font-size="10.5" fill="#5a5a5a">a</text>
<rect x="297.70" y="492.37" width="17.20" height="19.13" fill="url(#pDot)" stroke="#111" stroke-width="1"/>
<line x1="304.60" y1="491.77" x2="308.00" y2="491.77" stroke="#000" stroke-width="1.5"/>
<text x="306.30" y="486.17" text-anchor="middle" font-size="10.5" fill="#5a5a5a">c</text>
<clipPath id="hc16"><rect x="314.90" y="498.29" width="17.20" height="13.21"/></clipPath><g clip-path="url(#hc16)"><rect x="314.90" y="498.29" width="17.20" height="13.21" fill="#fff"/><path d="M311.11,498.29L313.11,498.29L299.90,511.50L297.90,511.50ZM314.66,498.29L316.66,498.29L303.45,511.50L301.45,511.50ZM318.21,498.29L320.21,498.29L307.00,511.50L305.00,511.50ZM321.76,498.29L323.76,498.29L310.55,511.50L308.55,511.50ZM325.31,498.29L327.31,498.29L314.10,511.50L312.10,511.50ZM328.86,498.29L330.86,498.29L317.65,511.50L315.65,511.50ZM332.41,498.29L334.41,498.29L321.20,511.50L319.20,511.50ZM335.96,498.29L337.96,498.29L324.75,511.50L322.75,511.50ZM339.51,498.29L341.51,498.29L328.30,511.50L326.30,511.50ZM343.06,498.29L345.06,498.29L331.85,511.50L329.85,511.50ZM346.61,498.29L348.61,498.29L335.40,511.50L333.40,511.50ZM350.16,498.29L352.16,498.29L338.95,511.50L336.95,511.50Z" fill="#000"/></g><rect x="314.90" y="498.29" width="17.20" height="13.21" fill="none" stroke="#111" stroke-width="1"/>
<line x1="321.80" y1="497.69" x2="325.20" y2="497.69" stroke="#000" stroke-width="1.5"/>
<text x="323.50" y="492.09" text-anchor="middle" font-size="10.5" fill="#5a5a5a">c</text>
<rect x="332.10" y="481.90" width="17.20" height="29.60" fill="url(#pChk)" stroke="#111" stroke-width="1"/>
<line x1="339.00" y1="481.30" x2="342.40" y2="481.30" stroke="#000" stroke-width="1.5"/>
<text x="340.70" y="475.70" text-anchor="middle" font-size="10.5" fill="#5a5a5a">a</text>
<rect x="358.20" y="398.11" width="17.20" height="113.39" fill="url(#pBlue)" stroke="#111" stroke-width="1"/>
<line x1="366.80" y1="397.43" x2="366.80" y2="398.11" stroke="#222" stroke-width="1"/>
<line x1="366.80" y1="398.11" x2="366.80" y2="398.79" stroke="#555" stroke-width="1"/>
<line x1="365.20" y1="397.43" x2="368.40" y2="397.43" stroke="#222" stroke-width="1"/>
<line x1="365.20" y1="398.79" x2="368.40" y2="398.79" stroke="#555" stroke-width="1"/>
<text x="366.80" y="391.23" text-anchor="middle" font-size="10.5" fill="#5a5a5a">a</text>
<clipPath id="hc17"><rect x="375.40" y="415.41" width="17.20" height="96.09"/></clipPath><g clip-path="url(#hc17)"><rect x="375.40" y="415.41" width="17.20" height="96.09" fill="#fff"/><path d="M273.41,415.41L275.41,415.41L371.50,511.50L369.50,511.50ZM276.96,415.41L278.96,415.41L375.05,511.50L373.05,511.50ZM280.51,415.41L282.51,415.41L378.60,511.50L376.60,511.50ZM284.06,415.41L286.06,415.41L382.15,511.50L380.15,511.50ZM287.61,415.41L289.61,415.41L385.70,511.50L383.70,511.50ZM291.16,415.41L293.16,415.41L389.25,511.50L387.25,511.50ZM294.71,415.41L296.71,415.41L392.80,511.50L390.80,511.50ZM298.26,415.41L300.26,415.41L396.35,511.50L394.35,511.50ZM301.81,415.41L303.81,415.41L399.90,511.50L397.90,511.50ZM305.36,415.41L307.36,415.41L403.45,511.50L401.45,511.50ZM308.91,415.41L310.91,415.41L407.00,511.50L405.00,511.50ZM312.46,415.41L314.46,415.41L410.55,511.50L408.55,511.50ZM316.01,415.41L318.01,415.41L414.10,511.50L412.10,511.50ZM319.56,415.41L321.56,415.41L417.65,511.50L415.65,511.50ZM323.11,415.41L325.11,415.41L421.20,511.50L419.20,511.50ZM326.66,415.41L328.66,415.41L424.75,511.50L422.75,511.50ZM330.21,415.41L332.21,415.41L428.30,511.50L426.30,511.50ZM333.76,415.41L335.76,415.41L431.85,511.50L429.85,511.50ZM337.31,415.41L339.31,415.41L435.40,511.50L433.40,511.50ZM340.86,415.41L342.86,415.41L438.95,511.50L436.95,511.50ZM344.41,415.41L346.41,415.41L442.50,511.50L440.50,511.50ZM347.96,415.41L349.96,415.41L446.05,511.50L444.05,511.50ZM351.51,415.41L353.51,415.41L449.60,511.50L447.60,511.50ZM355.06,415.41L357.06,415.41L453.15,511.50L451.15,511.50ZM358.61,415.41L360.61,415.41L456.70,511.50L454.70,511.50ZM362.16,415.41L364.16,415.41L460.25,511.50L458.25,511.50ZM365.71,415.41L367.71,415.41L463.80,511.50L461.80,511.50ZM369.26,415.41L371.26,415.41L467.35,511.50L465.35,511.50ZM372.81,415.41L374.81,415.41L470.90,511.50L468.90,511.50ZM376.36,415.41L378.36,415.41L474.45,511.50L472.45,511.50ZM379.91,415.41L381.91,415.41L478.00,511.50L476.00,511.50ZM383.46,415.41L385.46,415.41L481.55,511.50L479.55,511.50ZM387.01,415.41L389.01,415.41L485.10,511.50L483.10,511.50ZM390.56,415.41L392.56,415.41L488.65,511.50L486.65,511.50ZM394.11,415.41L396.11,415.41L492.20,511.50L490.20,511.50ZM397.66,415.41L399.66,415.41L495.75,511.50L493.75,511.50Z" fill="#000"/></g><rect x="375.40" y="415.41" width="17.20" height="96.09" fill="none" stroke="#111" stroke-width="1"/>
<line x1="382.30" y1="414.81" x2="385.70" y2="414.81" stroke="#000" stroke-width="1.5"/>
<text x="384.00" y="409.21" text-anchor="middle" font-size="10.5" fill="#5a5a5a">c</text>
<rect x="392.60" y="493.06" width="17.20" height="18.44" fill="url(#pDot)" stroke="#111" stroke-width="1"/>
<line x1="399.50" y1="492.46" x2="402.90" y2="492.46" stroke="#000" stroke-width="1.5"/>
<text x="401.20" y="486.86" text-anchor="middle" font-size="10.5" fill="#5a5a5a">d</text>
<clipPath id="hc18"><rect x="409.80" y="499.20" width="17.20" height="12.30"/></clipPath><g clip-path="url(#hc18)"><rect x="409.80" y="499.20" width="17.20" height="12.30" fill="#fff"/><path d="M406.05,499.20L408.05,499.20L395.75,511.50L393.75,511.50ZM409.60,499.20L411.60,499.20L399.30,511.50L397.30,511.50ZM413.15,499.20L415.15,499.20L402.85,511.50L400.85,511.50ZM416.70,499.20L418.70,499.20L406.40,511.50L404.40,511.50ZM420.25,499.20L422.25,499.20L409.95,511.50L407.95,511.50ZM423.80,499.20L425.80,499.20L413.50,511.50L411.50,511.50ZM427.35,499.20L429.35,499.20L417.05,511.50L415.05,511.50ZM430.90,499.20L432.90,499.20L420.60,511.50L418.60,511.50ZM434.45,499.20L436.45,499.20L424.15,511.50L422.15,511.50ZM438.00,499.20L440.00,499.20L427.70,511.50L425.70,511.50ZM441.55,499.20L443.55,499.20L431.25,511.50L429.25,511.50ZM445.10,499.20L447.10,499.20L434.80,511.50L432.80,511.50Z" fill="#000"/></g><rect x="409.80" y="499.20" width="17.20" height="12.30" fill="none" stroke="#111" stroke-width="1"/>
<line x1="416.70" y1="498.60" x2="420.10" y2="498.60" stroke="#000" stroke-width="1.5"/>
<text x="418.40" y="493.00" text-anchor="middle" font-size="10.5" fill="#5a5a5a">d</text>
<rect x="427.00" y="487.36" width="17.20" height="24.14" fill="url(#pChk)" stroke="#111" stroke-width="1"/>
<line x1="433.90" y1="486.76" x2="437.30" y2="486.76" stroke="#000" stroke-width="1.5"/>
<text x="435.60" y="481.16" text-anchor="middle" font-size="10.5" fill="#5a5a5a">e</text>
<rect x="452.50" y="432.72" width="17.20" height="78.78" fill="url(#pBlue)" stroke="#111" stroke-width="1"/>
<line x1="459.40" y1="432.12" x2="462.80" y2="432.12" stroke="#000" stroke-width="1.5"/>
<text x="461.10" y="426.29" text-anchor="middle" font-size="10.5" fill="#5a5a5a">d</text>
<clipPath id="hc19"><rect x="469.70" y="396.97" width="17.20" height="114.53"/></clipPath><g clip-path="url(#hc19)"><rect x="469.70" y="396.97" width="17.20" height="114.53" fill="#fff"/><path d="M350.82,396.97L352.82,396.97L467.35,511.50L465.35,511.50ZM354.37,396.97L356.37,396.97L470.90,511.50L468.90,511.50ZM357.92,396.97L359.92,396.97L474.45,511.50L472.45,511.50ZM361.47,396.97L363.47,396.97L478.00,511.50L476.00,511.50ZM365.02,396.97L367.02,396.97L481.55,511.50L479.55,511.50ZM368.57,396.97L370.57,396.97L485.10,511.50L483.10,511.50ZM372.12,396.97L374.12,396.97L488.65,511.50L486.65,511.50ZM375.67,396.97L377.67,396.97L492.20,511.50L490.20,511.50ZM379.22,396.97L381.22,396.97L495.75,511.50L493.75,511.50ZM382.77,396.97L384.77,396.97L499.30,511.50L497.30,511.50ZM386.32,396.97L388.32,396.97L502.85,511.50L500.85,511.50ZM389.87,396.97L391.87,396.97L506.40,511.50L504.40,511.50ZM393.42,396.97L395.42,396.97L509.95,511.50L507.95,511.50ZM396.97,396.97L398.97,396.97L513.50,511.50L511.50,511.50ZM400.52,396.97L402.52,396.97L517.05,511.50L515.05,511.50ZM404.07,396.97L406.07,396.97L520.60,511.50L518.60,511.50ZM407.62,396.97L409.62,396.97L524.15,511.50L522.15,511.50ZM411.17,396.97L413.17,396.97L527.70,511.50L525.70,511.50ZM414.72,396.97L416.72,396.97L531.25,511.50L529.25,511.50ZM418.27,396.97L420.27,396.97L534.80,511.50L532.80,511.50ZM421.82,396.97L423.82,396.97L538.35,511.50L536.35,511.50ZM425.37,396.97L427.37,396.97L541.90,511.50L539.90,511.50ZM428.92,396.97L430.92,396.97L545.45,511.50L543.45,511.50ZM432.47,396.97L434.47,396.97L549.00,511.50L547.00,511.50ZM436.02,396.97L438.02,396.97L552.55,511.50L550.55,511.50ZM439.57,396.97L441.57,396.97L556.10,511.50L554.10,511.50ZM443.12,396.97L445.12,396.97L559.65,511.50L557.65,511.50ZM446.67,396.97L448.67,396.97L563.20,511.50L561.20,511.50ZM450.22,396.97L452.22,396.97L566.75,511.50L564.75,511.50ZM453.77,396.97L455.77,396.97L570.30,511.50L568.30,511.50ZM457.32,396.97L459.32,396.97L573.85,511.50L571.85,511.50ZM460.87,396.97L462.87,396.97L577.40,511.50L575.40,511.50ZM464.42,396.97L466.42,396.97L580.95,511.50L578.95,511.50ZM467.97,396.97L469.97,396.97L584.50,511.50L582.50,511.50ZM471.52,396.97L473.52,396.97L588.05,511.50L586.05,511.50ZM475.07,396.97L477.07,396.97L591.60,511.50L589.60,511.50ZM478.62,396.97L480.62,396.97L595.15,511.50L593.15,511.50ZM482.17,396.97L484.17,396.97L598.70,511.50L596.70,511.50ZM485.72,396.97L487.72,396.97L602.25,511.50L600.25,511.50ZM489.27,396.97L491.27,396.97L605.80,511.50L603.80,511.50ZM492.82,396.97L494.82,396.97L609.35,511.50L607.35,511.50Z" fill="#000"/></g><rect x="469.70" y="396.97" width="17.20" height="114.53" fill="none" stroke="#111" stroke-width="1"/>
<line x1="476.60" y1="396.37" x2="480.00" y2="396.37" stroke="#000" stroke-width="1.5"/>
<text x="478.30" y="390.77" text-anchor="middle" font-size="10.5" fill="#5a5a5a">b</text>
<rect x="486.90" y="495.11" width="17.20" height="16.39" fill="url(#pDot)" stroke="#111" stroke-width="1"/>
<line x1="493.80" y1="494.51" x2="497.20" y2="494.51" stroke="#000" stroke-width="1.5"/>
<text x="495.50" y="488.91" text-anchor="middle" font-size="10.5" fill="#5a5a5a">e</text>
<clipPath id="hc20"><rect x="504.10" y="497.16" width="17.20" height="14.34"/></clipPath><g clip-path="url(#hc20)"><rect x="504.10" y="497.16" width="17.20" height="14.34" fill="#fff"/><path d="M500.39,497.16L502.39,497.16L488.05,511.50L486.05,511.50ZM503.94,497.16L505.94,497.16L491.60,511.50L489.60,511.50ZM507.49,497.16L509.49,497.16L495.15,511.50L493.15,511.50ZM511.04,497.16L513.04,497.16L498.70,511.50L496.70,511.50ZM514.59,497.16L516.59,497.16L502.25,511.50L500.25,511.50ZM518.14,497.16L520.14,497.16L505.80,511.50L503.80,511.50ZM521.69,497.16L523.69,497.16L509.35,511.50L507.35,511.50ZM525.24,497.16L527.24,497.16L512.90,511.50L510.90,511.50ZM528.79,497.16L530.79,497.16L516.45,511.50L514.45,511.50ZM532.34,497.16L534.34,497.16L520.00,511.50L518.00,511.50ZM535.89,497.16L537.89,497.16L523.55,511.50L521.55,511.50ZM539.44,497.16L541.44,497.16L527.10,511.50L525.10,511.50Z" fill="#000"/></g><rect x="504.10" y="497.16" width="17.20" height="14.34" fill="none" stroke="#111" stroke-width="1"/>
<line x1="511.00" y1="496.56" x2="514.40" y2="496.56" stroke="#000" stroke-width="1.5"/>
<text x="512.70" y="490.96" text-anchor="middle" font-size="10.5" fill="#5a5a5a">b</text>
<rect x="521.30" y="484.63" width="17.20" height="26.87" fill="url(#pChk)" stroke="#111" stroke-width="1"/>
<line x1="528.20" y1="484.03" x2="531.60" y2="484.03" stroke="#000" stroke-width="1.5"/>
<text x="529.90" y="478.43" text-anchor="middle" font-size="10.5" fill="#5a5a5a">c</text>
<rect x="69.80" y="363.50" width="473.40" height="148.00" fill="none" stroke="#1a1a1a" stroke-width="1.2"/>
<text x="61.8" y="515.30" text-anchor="end" font-size="10.8" fill="#5a5a5a">0.0</text>
<line x1="69.80" y1="481.90" x2="73.30" y2="481.90" stroke="#1a1a1a" stroke-width="1"/>
<text x="61.8" y="485.70" text-anchor="end" font-size="10.8" fill="#5a5a5a">1.3</text>
<line x1="69.80" y1="452.30" x2="73.30" y2="452.30" stroke="#1a1a1a" stroke-width="1"/>
<text x="61.8" y="456.10" text-anchor="end" font-size="10.8" fill="#5a5a5a">2.6</text>
<line x1="69.80" y1="422.70" x2="73.30" y2="422.70" stroke="#1a1a1a" stroke-width="1"/>
<text x="61.8" y="426.50" text-anchor="end" font-size="10.8" fill="#5a5a5a">3.9</text>
<line x1="69.80" y1="393.10" x2="73.30" y2="393.10" stroke="#1a1a1a" stroke-width="1"/>
<text x="61.8" y="396.90" text-anchor="end" font-size="10.8" fill="#5a5a5a">5.2</text>
<text x="61.8" y="367.30" text-anchor="end" font-size="10.8" fill="#5a5a5a">6.5</text>
<rect x="102" y="371" width="7" height="7" fill="url(#pBlue)" stroke="#222" stroke-width="1"/>
<text x="114.4" y="378.5" font-size="10.5" fill="#2a2a2a">GA (ng g<tspan font-size="6.5" dy="-4">-1</tspan><tspan dy="4">)</tspan></text>
<clipPath id="hc33"><rect x="174.50" y="371.00" width="7.00" height="7.00"/></clipPath><g clip-path="url(#hc33)"><rect x="174.50" y="371.00" width="7.00" height="7.00" fill="#fff"/><path d="M161.55,371.00L163.55,371.00L170.55,378.00L168.55,378.00ZM165.10,371.00L167.10,371.00L174.10,378.00L172.10,378.00ZM168.65,371.00L170.65,371.00L177.65,378.00L175.65,378.00ZM172.20,371.00L174.20,371.00L181.20,378.00L179.20,378.00ZM175.75,371.00L177.75,371.00L184.75,378.00L182.75,378.00ZM179.30,371.00L181.30,371.00L188.30,378.00L186.30,378.00ZM182.85,371.00L184.85,371.00L191.85,378.00L189.85,378.00ZM186.40,371.00L188.40,371.00L195.40,378.00L193.40,378.00Z" fill="#000"/></g><rect x="174.50" y="371.00" width="7.00" height="7.00" fill="none" stroke="#111" stroke-width="1"/>
<text x="186.4" y="378.5" font-size="10.5" fill="#2a2a2a">ABA (μg g<tspan font-size="6.5" dy="-4">-1</tspan><tspan dy="4">)</tspan></text>
<rect x="265" y="371" width="7" height="7" fill="url(#pDot)" stroke="#222" stroke-width="1"/>
<text x="277.6" y="378.5" font-size="10.5" fill="#2a2a2a">IAA (μg g<tspan font-size="6.5" dy="-4">-1</tspan><tspan dy="4">)</tspan></text>
<clipPath id="hc34"><rect x="351.50" y="371.00" width="7.00" height="7.00"/></clipPath><g clip-path="url(#hc34)"><rect x="351.50" y="371.00" width="7.00" height="7.00" fill="#fff"/><path d="M346.10,371.00L348.10,371.00L341.10,378.00L339.10,378.00ZM349.65,371.00L351.65,371.00L344.65,378.00L342.65,378.00ZM353.20,371.00L355.20,371.00L348.20,378.00L346.20,378.00ZM356.75,371.00L358.75,371.00L351.75,378.00L349.75,378.00ZM360.30,371.00L362.30,371.00L355.30,378.00L353.30,378.00ZM363.85,371.00L365.85,371.00L358.85,378.00L356.85,378.00ZM367.40,371.00L369.40,371.00L362.40,378.00L360.40,378.00ZM370.95,371.00L372.95,371.00L365.95,378.00L363.95,378.00Z" fill="#000"/></g><rect x="351.50" y="371.00" width="7.00" height="7.00" fill="none" stroke="#111" stroke-width="1"/>
<text x="364" y="378.5" font-size="10.5" fill="#2a2a2a">CTK (μg g<tspan font-size="6.5" dy="-4">-1</tspan><tspan dy="4">)</tspan></text>
<rect x="442" y="371" width="7" height="7" fill="url(#pChk)" stroke="#222" stroke-width="1"/>
<text x="455" y="378.5" font-size="10.5" fill="#2a2a2a">ZR <tspan font-size="13" fill="#555">×</tspan>0.1 (μg g<tspan font-size="6.5" dy="-4">-1</tspan><tspan dy="4">)</tspan></text>
<rect x="74.00" y="657.52" width="16.90" height="21.98" fill="url(#pBlue)" stroke="#111" stroke-width="1"/>
<line x1="80.75" y1="656.92" x2="84.15" y2="656.92" stroke="#000" stroke-width="1.5"/>
<text x="82.45" y="651.00" text-anchor="middle" font-size="10.5" fill="#5a5a5a">ab</text>
<clipPath id="hc21"><rect x="90.90" y="590.35" width="16.90" height="89.15"/></clipPath><g clip-path="url(#hc21)"><rect x="90.90" y="590.35" width="16.90" height="89.15" fill="#fff"/><path d="M-2.50,590.35L-0.50,590.35L88.65,679.50L86.65,679.50ZM1.05,590.35L3.05,590.35L92.20,679.50L90.20,679.50ZM4.60,590.35L6.60,590.35L95.75,679.50L93.75,679.50ZM8.15,590.35L10.15,590.35L99.30,679.50L97.30,679.50ZM11.70,590.35L13.70,590.35L102.85,679.50L100.85,679.50ZM15.25,590.35L17.25,590.35L106.40,679.50L104.40,679.50ZM18.80,590.35L20.80,590.35L109.95,679.50L107.95,679.50ZM22.35,590.35L24.35,590.35L113.50,679.50L111.50,679.50ZM25.90,590.35L27.90,590.35L117.05,679.50L115.05,679.50ZM29.45,590.35L31.45,590.35L120.60,679.50L118.60,679.50ZM33.00,590.35L35.00,590.35L124.15,679.50L122.15,679.50ZM36.55,590.35L38.55,590.35L127.70,679.50L125.70,679.50ZM40.10,590.35L42.10,590.35L131.25,679.50L129.25,679.50ZM43.65,590.35L45.65,590.35L134.80,679.50L132.80,679.50ZM47.20,590.35L49.20,590.35L138.35,679.50L136.35,679.50ZM50.75,590.35L52.75,590.35L141.90,679.50L139.90,679.50ZM54.30,590.35L56.30,590.35L145.45,679.50L143.45,679.50ZM57.85,590.35L59.85,590.35L149.00,679.50L147.00,679.50ZM61.40,590.35L63.40,590.35L152.55,679.50L150.55,679.50ZM64.95,590.35L66.95,590.35L156.10,679.50L154.10,679.50ZM68.50,590.35L70.50,590.35L159.65,679.50L157.65,679.50ZM72.05,590.35L74.05,590.35L163.20,679.50L161.20,679.50ZM75.60,590.35L77.60,590.35L166.75,679.50L164.75,679.50ZM79.15,590.35L81.15,590.35L170.30,679.50L168.30,679.50ZM82.70,590.35L84.70,590.35L173.85,679.50L171.85,679.50ZM86.25,590.35L88.25,590.35L177.40,679.50L175.40,679.50ZM89.80,590.35L91.80,590.35L180.95,679.50L178.95,679.50ZM93.35,590.35L95.35,590.35L184.50,679.50L182.50,679.50ZM96.90,590.35L98.90,590.35L188.05,679.50L186.05,679.50ZM100.45,590.35L102.45,590.35L191.60,679.50L189.60,679.50ZM104.00,590.35L106.00,590.35L195.15,679.50L193.15,679.50ZM107.55,590.35L109.55,590.35L198.70,679.50L196.70,679.50ZM111.10,590.35L113.10,590.35L202.25,679.50L200.25,679.50ZM114.65,590.35L116.65,590.35L205.80,679.50L203.80,679.50Z" fill="#000"/></g><rect x="90.90" y="590.35" width="16.90" height="89.15" fill="none" stroke="#111" stroke-width="1"/>
<line x1="99.35" y1="582.73" x2="99.35" y2="590.35" stroke="#222" stroke-width="1"/>
<line x1="99.35" y1="590.35" x2="99.35" y2="597.97" stroke="#555" stroke-width="1"/>
<line x1="97.75" y1="582.73" x2="100.95" y2="582.73" stroke="#222" stroke-width="1"/>
<line x1="97.75" y1="597.97" x2="100.95" y2="597.97" stroke="#555" stroke-width="1"/>
<text x="99.35" y="576.73" text-anchor="middle" font-size="10.5" fill="#5a5a5a">ab</text>
<rect x="107.80" y="612.27" width="16.90" height="67.23" fill="url(#pDot)" stroke="#111" stroke-width="1"/>
<line x1="116.25" y1="605.02" x2="116.25" y2="612.27" stroke="#222" stroke-width="1"/>
<line x1="116.25" y1="612.27" x2="116.25" y2="619.53" stroke="#555" stroke-width="1"/>
<line x1="114.65" y1="605.02" x2="117.85" y2="605.02" stroke="#222" stroke-width="1"/>
<line x1="114.65" y1="619.53" x2="117.85" y2="619.53" stroke="#555" stroke-width="1"/>
<text x="116.25" y="599.02" text-anchor="middle" font-size="10.5" fill="#5a5a5a">ab</text>
<clipPath id="hc22"><rect x="124.70" y="640.68" width="16.90" height="38.82"/></clipPath><g clip-path="url(#hc22)"><rect x="124.70" y="640.68" width="16.90" height="38.82" fill="#fff"/><path d="M119.02,640.68L121.02,640.68L82.20,679.50L80.20,679.50ZM122.57,640.68L124.57,640.68L85.75,679.50L83.75,679.50ZM126.12,640.68L128.12,640.68L89.30,679.50L87.30,679.50ZM129.67,640.68L131.67,640.68L92.85,679.50L90.85,679.50ZM133.22,640.68L135.22,640.68L96.40,679.50L94.40,679.50ZM136.77,640.68L138.77,640.68L99.95,679.50L97.95,679.50ZM140.32,640.68L142.32,640.68L103.50,679.50L101.50,679.50ZM143.87,640.68L145.87,640.68L107.05,679.50L105.05,679.50ZM147.42,640.68L149.42,640.68L110.60,679.50L108.60,679.50ZM150.97,640.68L152.97,640.68L114.15,679.50L112.15,679.50ZM154.52,640.68L156.52,640.68L117.70,679.50L115.70,679.50ZM158.07,640.68L160.07,640.68L121.25,679.50L119.25,679.50ZM161.62,640.68L163.62,640.68L124.80,679.50L122.80,679.50ZM165.17,640.68L167.17,640.68L128.35,679.50L126.35,679.50ZM168.72,640.68L170.72,640.68L131.90,679.50L129.90,679.50ZM172.27,640.68L174.27,640.68L135.45,679.50L133.45,679.50ZM175.82,640.68L177.82,640.68L139.00,679.50L137.00,679.50ZM179.37,640.68L181.37,640.68L142.55,679.50L140.55,679.50ZM182.92,640.68L184.92,640.68L146.10,679.50L144.10,679.50ZM186.47,640.68L188.47,640.68L149.65,679.50L147.65,679.50Z" fill="#000"/></g><rect x="124.70" y="640.68" width="16.90" height="38.82" fill="none" stroke="#111" stroke-width="1"/>
<line x1="133.15" y1="639.90" x2="133.15" y2="640.68" stroke="#222" stroke-width="1"/>
<line x1="133.15" y1="640.68" x2="133.15" y2="641.45" stroke="#555" stroke-width="1"/>
<line x1="131.55" y1="639.90" x2="134.75" y2="639.90" stroke="#222" stroke-width="1"/>
<line x1="131.55" y1="641.45" x2="134.75" y2="641.45" stroke="#555" stroke-width="1"/>
<text x="133.15" y="633.90" text-anchor="middle" font-size="10.5" fill="#5a5a5a">ab</text>
<rect x="141.60" y="644.72" width="16.90" height="34.78" fill="url(#pChk)" stroke="#111" stroke-width="1"/>
<line x1="148.35" y1="644.12" x2="151.75" y2="644.12" stroke="#000" stroke-width="1.5"/>
<text x="150.05" y="638.72" text-anchor="middle" font-size="10.5" fill="#5a5a5a">bc</text>
<rect x="168.60" y="655.92" width="16.90" height="23.58" fill="url(#pBlue)" stroke="#111" stroke-width="1"/>
<line x1="177.05" y1="654.88" x2="177.05" y2="655.92" stroke="#222" stroke-width="1"/>
<line x1="177.05" y1="655.92" x2="177.05" y2="656.95" stroke="#555" stroke-width="1"/>
<line x1="175.45" y1="654.88" x2="178.65" y2="654.88" stroke="#222" stroke-width="1"/>
<line x1="175.45" y1="656.95" x2="178.65" y2="656.95" stroke="#555" stroke-width="1"/>
<text x="177.05" y="648.88" text-anchor="middle" font-size="10.5" fill="#5a5a5a">a</text>
<clipPath id="hc23"><rect x="185.50" y="554.12" width="16.90" height="125.38"/></clipPath><g clip-path="url(#hc23)"><rect x="185.50" y="554.12" width="16.90" height="125.38" fill="#fff"/><path d="M53.57,554.12L55.57,554.12L180.95,679.50L178.95,679.50ZM57.12,554.12L59.12,554.12L184.50,679.50L182.50,679.50ZM60.67,554.12L62.67,554.12L188.05,679.50L186.05,679.50ZM64.22,554.12L66.22,554.12L191.60,679.50L189.60,679.50ZM67.77,554.12L69.77,554.12L195.15,679.50L193.15,679.50ZM71.32,554.12L73.32,554.12L198.70,679.50L196.70,679.50ZM74.87,554.12L76.87,554.12L202.25,679.50L200.25,679.50ZM78.42,554.12L80.42,554.12L205.80,679.50L203.80,679.50ZM81.97,554.12L83.97,554.12L209.35,679.50L207.35,679.50ZM85.52,554.12L87.52,554.12L212.90,679.50L210.90,679.50ZM89.07,554.12L91.07,554.12L216.45,679.50L214.45,679.50ZM92.62,554.12L94.62,554.12L220.00,679.50L218.00,679.50ZM96.17,554.12L98.17,554.12L223.55,679.50L221.55,679.50ZM99.72,554.12L101.72,554.12L227.10,679.50L225.10,679.50ZM103.27,554.12L105.27,554.12L230.65,679.50L228.65,679.50ZM106.82,554.12L108.82,554.12L234.20,679.50L232.20,679.50ZM110.37,554.12L112.37,554.12L237.75,679.50L235.75,679.50ZM113.92,554.12L115.92,554.12L241.30,679.50L239.30,679.50ZM117.47,554.12L119.47,554.12L244.85,679.50L242.85,679.50ZM121.02,554.12L123.02,554.12L248.40,679.50L246.40,679.50ZM124.57,554.12L126.57,554.12L251.95,679.50L249.95,679.50ZM128.12,554.12L130.12,554.12L255.50,679.50L253.50,679.50ZM131.67,554.12L133.67,554.12L259.05,679.50L257.05,679.50ZM135.22,554.12L137.22,554.12L262.60,679.50L260.60,679.50ZM138.77,554.12L140.77,554.12L266.15,679.50L264.15,679.50ZM142.32,554.12L144.32,554.12L269.70,679.50L267.70,679.50ZM145.87,554.12L147.87,554.12L273.25,679.50L271.25,679.50ZM149.42,554.12L151.42,554.12L276.80,679.50L274.80,679.50ZM152.97,554.12L154.97,554.12L280.35,679.50L278.35,679.50ZM156.52,554.12L158.52,554.12L283.90,679.50L281.90,679.50ZM160.07,554.12L162.07,554.12L287.45,679.50L285.45,679.50ZM163.62,554.12L165.62,554.12L291.00,679.50L289.00,679.50ZM167.17,554.12L169.17,554.12L294.55,679.50L292.55,679.50ZM170.72,554.12L172.72,554.12L298.10,679.50L296.10,679.50ZM174.27,554.12L176.27,554.12L301.65,679.50L299.65,679.50ZM177.82,554.12L179.82,554.12L305.20,679.50L303.20,679.50ZM181.37,554.12L183.37,554.12L308.75,679.50L306.75,679.50ZM184.92,554.12L186.92,554.12L312.30,679.50L310.30,679.50ZM188.47,554.12L190.47,554.12L315.85,679.50L313.85,679.50ZM192.02,554.12L194.02,554.12L319.40,679.50L317.40,679.50ZM195.57,554.12L197.57,554.12L322.95,679.50L320.95,679.50ZM199.12,554.12L201.12,554.12L326.50,679.50L324.50,679.50ZM202.67,554.12L204.67,554.12L330.05,679.50L328.05,679.50ZM206.22,554.12L208.22,554.12L333.60,679.50L331.60,679.50Z" fill="#000"/></g><rect x="185.50" y="554.12" width="16.90" height="125.38" fill="none" stroke="#111" stroke-width="1"/>
<line x1="193.95" y1="530.01" x2="193.95" y2="554.12" stroke="#222" stroke-width="1"/>
<line x1="193.95" y1="554.12" x2="193.95" y2="578.22" stroke="#555" stroke-width="1"/>
<line x1="192.35" y1="530.01" x2="195.55" y2="530.01" stroke="#222" stroke-width="1"/>
<line x1="192.35" y1="578.22" x2="195.55" y2="578.22" stroke="#555" stroke-width="1"/>
<text x="193.95" y="530.50" text-anchor="middle" font-size="10.5" fill="#5a5a5a">a</text>
<rect x="202.40" y="578.01" width="16.90" height="101.49" fill="url(#pDot)" stroke="#111" stroke-width="1"/>
<line x1="210.85" y1="556.76" x2="210.85" y2="578.01" stroke="#222" stroke-width="1"/>
<line x1="210.85" y1="578.01" x2="210.85" y2="599.26" stroke="#555" stroke-width="1"/>
<line x1="209.25" y1="556.76" x2="212.45" y2="556.76" stroke="#222" stroke-width="1"/>
<line x1="209.25" y1="599.26" x2="212.45" y2="599.26" stroke="#555" stroke-width="1"/>
<text x="210.85" y="550.76" text-anchor="middle" font-size="10.5" fill="#5a5a5a">a</text>
<clipPath id="hc24"><rect x="219.30" y="638.71" width="16.90" height="40.79"/></clipPath><g clip-path="url(#hc24)"><rect x="219.30" y="638.71" width="16.90" height="40.79" fill="#fff"/><path d="M213.29,638.71L215.29,638.71L174.50,679.50L172.50,679.50ZM216.84,638.71L218.84,638.71L178.05,679.50L176.05,679.50ZM220.39,638.71L222.39,638.71L181.60,679.50L179.60,679.50ZM223.94,638.71L225.94,638.71L185.15,679.50L183.15,679.50ZM227.49,638.71L229.49,638.71L188.70,679.50L186.70,679.50ZM231.04,638.71L233.04,638.71L192.25,679.50L190.25,679.50ZM234.59,638.71L236.59,638.71L195.80,679.50L193.80,679.50ZM238.14,638.71L240.14,638.71L199.35,679.50L197.35,679.50ZM241.69,638.71L243.69,638.71L202.90,679.50L200.90,679.50ZM245.24,638.71L247.24,638.71L206.45,679.50L204.45,679.50ZM248.79,638.71L250.79,638.71L210.00,679.50L208.00,679.50ZM252.34,638.71L254.34,638.71L213.55,679.50L211.55,679.50ZM255.89,638.71L257.89,638.71L217.10,679.50L215.10,679.50ZM259.44,638.71L261.44,638.71L220.65,679.50L218.65,679.50ZM262.99,638.71L264.99,638.71L224.20,679.50L222.20,679.50ZM266.54,638.71L268.54,638.71L227.75,679.50L225.75,679.50ZM270.09,638.71L272.09,638.71L231.30,679.50L229.30,679.50ZM273.64,638.71L275.64,638.71L234.85,679.50L232.85,679.50ZM277.19,638.71L279.19,638.71L238.40,679.50L236.40,679.50ZM280.74,638.71L282.74,638.71L241.95,679.50L239.95,679.50Z" fill="#000"/></g><rect x="219.30" y="638.71" width="16.90" height="40.79" fill="none" stroke="#111" stroke-width="1"/>
<line x1="227.75" y1="637.15" x2="227.75" y2="638.71" stroke="#222" stroke-width="1"/>
<line x1="227.75" y1="638.71" x2="227.75" y2="640.26" stroke="#555" stroke-width="1"/>
<line x1="226.15" y1="637.15" x2="229.35" y2="637.15" stroke="#222" stroke-width="1"/>
<line x1="226.15" y1="640.26" x2="229.35" y2="640.26" stroke="#555" stroke-width="1"/>
<text x="227.75" y="631.15" text-anchor="middle" font-size="10.5" fill="#5a5a5a">a</text>
<rect x="236.20" y="643.99" width="16.90" height="35.51" fill="url(#pChk)" stroke="#111" stroke-width="1"/>
<line x1="242.95" y1="643.39" x2="246.35" y2="643.39" stroke="#000" stroke-width="1.5"/>
<text x="244.65" y="637.99" text-anchor="middle" font-size="10.5" fill="#5a5a5a">ab</text>
<rect x="264.00" y="663.28" width="16.90" height="16.22" fill="url(#pBlue)" stroke="#111" stroke-width="1"/>
<line x1="270.75" y1="662.68" x2="274.15" y2="662.68" stroke="#000" stroke-width="1.5"/>
<text x="272.45" y="656.76" text-anchor="middle" font-size="10.5" fill="#5a5a5a">c</text>
<clipPath id="hc25"><rect x="280.90" y="618.49" width="16.90" height="61.01"/></clipPath><g clip-path="url(#hc25)"><rect x="280.90" y="618.49" width="16.90" height="61.01" fill="#fff"/><path d="M213.79,618.49L215.79,618.49L276.80,679.50L274.80,679.50ZM217.34,618.49L219.34,618.49L280.35,679.50L278.35,679.50ZM220.89,618.49L222.89,618.49L283.90,679.50L281.90,679.50ZM224.44,618.49L226.44,618.49L287.45,679.50L285.45,679.50ZM227.99,618.49L229.99,618.49L291.00,679.50L289.00,679.50ZM231.54,618.49L233.54,618.49L294.55,679.50L292.55,679.50ZM235.09,618.49L237.09,618.49L298.10,679.50L296.10,679.50ZM238.64,618.49L240.64,618.49L301.65,679.50L299.65,679.50ZM242.19,618.49L244.19,618.49L305.20,679.50L303.20,679.50ZM245.74,618.49L247.74,618.49L308.75,679.50L306.75,679.50ZM249.29,618.49L251.29,618.49L312.30,679.50L310.30,679.50ZM252.84,618.49L254.84,618.49L315.85,679.50L313.85,679.50ZM256.39,618.49L258.39,618.49L319.40,679.50L317.40,679.50ZM259.94,618.49L261.94,618.49L322.95,679.50L320.95,679.50ZM263.49,618.49L265.49,618.49L326.50,679.50L324.50,679.50ZM267.04,618.49L269.04,618.49L330.05,679.50L328.05,679.50ZM270.59,618.49L272.59,618.49L333.60,679.50L331.60,679.50ZM274.14,618.49L276.14,618.49L337.15,679.50L335.15,679.50ZM277.69,618.49L279.69,618.49L340.70,679.50L338.70,679.50ZM281.24,618.49L283.24,618.49L344.25,679.50L342.25,679.50ZM284.79,618.49L286.79,618.49L347.80,679.50L345.80,679.50ZM288.34,618.49L290.34,618.49L351.35,679.50L349.35,679.50ZM291.89,618.49L293.89,618.49L354.90,679.50L352.90,679.50ZM295.44,618.49L297.44,618.49L358.45,679.50L356.45,679.50ZM298.99,618.49L300.99,618.49L362.00,679.50L360.00,679.50ZM302.54,618.49L304.54,618.49L365.55,679.50L363.55,679.50Z" fill="#000"/></g><rect x="280.90" y="618.49" width="16.90" height="61.01" fill="none" stroke="#111" stroke-width="1"/>
<line x1="289.35" y1="616.42" x2="289.35" y2="618.49" stroke="#222" stroke-width="1"/>
<line x1="289.35" y1="618.49" x2="289.35" y2="620.57" stroke="#555" stroke-width="1"/>
<line x1="287.75" y1="616.42" x2="290.95" y2="616.42" stroke="#222" stroke-width="1"/>
<line x1="287.75" y1="620.57" x2="290.95" y2="620.57" stroke="#555" stroke-width="1"/>
<text x="289.35" y="610.42" text-anchor="middle" font-size="10.5" fill="#5a5a5a">b</text>
<rect x="297.80" y="634.61" width="16.90" height="44.89" fill="url(#pDot)" stroke="#111" stroke-width="1"/>
<line x1="306.25" y1="632.02" x2="306.25" y2="634.61" stroke="#222" stroke-width="1"/>
<line x1="306.25" y1="634.61" x2="306.25" y2="637.20" stroke="#555" stroke-width="1"/>
<line x1="304.65" y1="632.02" x2="307.85" y2="632.02" stroke="#222" stroke-width="1"/>
<line x1="304.65" y1="637.20" x2="307.85" y2="637.20" stroke="#555" stroke-width="1"/>
<text x="306.25" y="626.02" text-anchor="middle" font-size="10.5" fill="#5a5a5a">b</text>
<clipPath id="hc26"><rect x="314.70" y="641.82" width="16.90" height="37.68"/></clipPath><g clip-path="url(#hc26)"><rect x="314.70" y="641.82" width="16.90" height="37.68" fill="#fff"/><path d="M309.58,641.82L311.58,641.82L273.90,679.50L271.90,679.50ZM313.13,641.82L315.13,641.82L277.45,679.50L275.45,679.50ZM316.68,641.82L318.68,641.82L281.00,679.50L279.00,679.50ZM320.23,641.82L322.23,641.82L284.55,679.50L282.55,679.50ZM323.78,641.82L325.78,641.82L288.10,679.50L286.10,679.50ZM327.33,641.82L329.33,641.82L291.65,679.50L289.65,679.50ZM330.88,641.82L332.88,641.82L295.20,679.50L293.20,679.50ZM334.43,641.82L336.43,641.82L298.75,679.50L296.75,679.50ZM337.98,641.82L339.98,641.82L302.30,679.50L300.30,679.50ZM341.53,641.82L343.53,641.82L305.85,679.50L303.85,679.50ZM345.08,641.82L347.08,641.82L309.40,679.50L307.40,679.50ZM348.63,641.82L350.63,641.82L312.95,679.50L310.95,679.50ZM352.18,641.82L354.18,641.82L316.50,679.50L314.50,679.50ZM355.73,641.82L357.73,641.82L320.05,679.50L318.05,679.50ZM359.28,641.82L361.28,641.82L323.60,679.50L321.60,679.50ZM362.83,641.82L364.83,641.82L327.15,679.50L325.15,679.50ZM366.38,641.82L368.38,641.82L330.70,679.50L328.70,679.50ZM369.93,641.82L371.93,641.82L334.25,679.50L332.25,679.50ZM373.48,641.82L375.48,641.82L337.80,679.50L335.80,679.50Z" fill="#000"/></g><rect x="314.70" y="641.82" width="16.90" height="37.68" fill="none" stroke="#111" stroke-width="1"/>
<line x1="323.15" y1="640.78" x2="323.15" y2="641.82" stroke="#222" stroke-width="1"/>
<line x1="323.15" y1="641.82" x2="323.15" y2="642.85" stroke="#555" stroke-width="1"/>
<line x1="321.55" y1="640.78" x2="324.75" y2="640.78" stroke="#222" stroke-width="1"/>
<line x1="321.55" y1="642.85" x2="324.75" y2="642.85" stroke="#555" stroke-width="1"/>
<text x="323.15" y="634.78" text-anchor="middle" font-size="10.5" fill="#5a5a5a">bc</text>
<rect x="331.60" y="645.39" width="16.90" height="34.11" fill="url(#pChk)" stroke="#111" stroke-width="1"/>
<line x1="338.35" y1="644.79" x2="341.75" y2="644.79" stroke="#000" stroke-width="1.5"/>
<text x="340.05" y="639.39" text-anchor="middle" font-size="10.5" fill="#5a5a5a">c</text>
<rect x="358.60" y="659.91" width="16.90" height="19.59" fill="url(#pBlue)" stroke="#111" stroke-width="1"/>
<line x1="365.35" y1="659.31" x2="368.75" y2="659.31" stroke="#000" stroke-width="1.5"/>
<text x="367.05" y="653.39" text-anchor="middle" font-size="10.5" fill="#5a5a5a">b</text>
<clipPath id="hc27"><rect x="375.50" y="621.19" width="16.90" height="58.31"/></clipPath><g clip-path="url(#hc27)"><rect x="375.50" y="621.19" width="16.90" height="58.31" fill="#fff"/><path d="M312.34,621.19L314.34,621.19L372.65,679.50L370.65,679.50ZM315.89,621.19L317.89,621.19L376.20,679.50L374.20,679.50ZM319.44,621.19L321.44,621.19L379.75,679.50L377.75,679.50ZM322.99,621.19L324.99,621.19L383.30,679.50L381.30,679.50ZM326.54,621.19L328.54,621.19L386.85,679.50L384.85,679.50ZM330.09,621.19L332.09,621.19L390.40,679.50L388.40,679.50ZM333.64,621.19L335.64,621.19L393.95,679.50L391.95,679.50ZM337.19,621.19L339.19,621.19L397.50,679.50L395.50,679.50ZM340.74,621.19L342.74,621.19L401.05,679.50L399.05,679.50ZM344.29,621.19L346.29,621.19L404.60,679.50L402.60,679.50ZM347.84,621.19L349.84,621.19L408.15,679.50L406.15,679.50ZM351.39,621.19L353.39,621.19L411.70,679.50L409.70,679.50ZM354.94,621.19L356.94,621.19L415.25,679.50L413.25,679.50ZM358.49,621.19L360.49,621.19L418.80,679.50L416.80,679.50ZM362.04,621.19L364.04,621.19L422.35,679.50L420.35,679.50ZM365.59,621.19L367.59,621.19L425.90,679.50L423.90,679.50ZM369.14,621.19L371.14,621.19L429.45,679.50L427.45,679.50ZM372.69,621.19L374.69,621.19L433.00,679.50L431.00,679.50ZM376.24,621.19L378.24,621.19L436.55,679.50L434.55,679.50ZM379.79,621.19L381.79,621.19L440.10,679.50L438.10,679.50ZM383.34,621.19L385.34,621.19L443.65,679.50L441.65,679.50ZM386.89,621.19L388.89,621.19L447.20,679.50L445.20,679.50ZM390.44,621.19L392.44,621.19L450.75,679.50L448.75,679.50ZM393.99,621.19L395.99,621.19L454.30,679.50L452.30,679.50ZM397.54,621.19L399.54,621.19L457.85,679.50L455.85,679.50Z" fill="#000"/></g><rect x="375.50" y="621.19" width="16.90" height="58.31" fill="none" stroke="#111" stroke-width="1"/>
<line x1="383.95" y1="618.08" x2="383.95" y2="621.19" stroke="#222" stroke-width="1"/>
<line x1="383.95" y1="621.19" x2="383.95" y2="624.30" stroke="#555" stroke-width="1"/>
<line x1="382.35" y1="618.08" x2="385.55" y2="618.08" stroke="#222" stroke-width="1"/>
<line x1="382.35" y1="624.30" x2="385.55" y2="624.30" stroke="#555" stroke-width="1"/>
<text x="383.95" y="612.08" text-anchor="middle" font-size="10.5" fill="#5a5a5a">b</text>
<rect x="392.40" y="639.59" width="16.90" height="39.91" fill="url(#pDot)" stroke="#111" stroke-width="1"/>
<line x1="400.85" y1="637.00" x2="400.85" y2="639.59" stroke="#222" stroke-width="1"/>
<line x1="400.85" y1="639.59" x2="400.85" y2="642.18" stroke="#555" stroke-width="1"/>
<line x1="399.25" y1="637.00" x2="402.45" y2="637.00" stroke="#222" stroke-width="1"/>
<line x1="399.25" y1="642.18" x2="402.45" y2="642.18" stroke="#555" stroke-width="1"/>
<text x="400.85" y="631.00" text-anchor="middle" font-size="10.5" fill="#5a5a5a">b</text>
<clipPath id="hc28"><rect x="409.30" y="644.31" width="16.90" height="35.19"/></clipPath><g clip-path="url(#hc28)"><rect x="409.30" y="644.31" width="16.90" height="35.19" fill="#fff"/><path d="M402.94,644.31L404.94,644.31L369.75,679.50L367.75,679.50ZM406.49,644.31L408.49,644.31L373.30,679.50L371.30,679.50ZM410.04,644.31L412.04,644.31L376.85,679.50L374.85,679.50ZM413.59,644.31L415.59,644.31L380.40,679.50L378.40,679.50ZM417.14,644.31L419.14,644.31L383.95,679.50L381.95,679.50ZM420.69,644.31L422.69,644.31L387.50,679.50L385.50,679.50ZM424.24,644.31L426.24,644.31L391.05,679.50L389.05,679.50ZM427.79,644.31L429.79,644.31L394.60,679.50L392.60,679.50ZM431.34,644.31L433.34,644.31L398.15,679.50L396.15,679.50ZM434.89,644.31L436.89,644.31L401.70,679.50L399.70,679.50ZM438.44,644.31L440.44,644.31L405.25,679.50L403.25,679.50ZM441.99,644.31L443.99,644.31L408.80,679.50L406.80,679.50ZM445.54,644.31L447.54,644.31L412.35,679.50L410.35,679.50ZM449.09,644.31L451.09,644.31L415.90,679.50L413.90,679.50ZM452.64,644.31L454.64,644.31L419.45,679.50L417.45,679.50ZM456.19,644.31L458.19,644.31L423.00,679.50L421.00,679.50ZM459.74,644.31L461.74,644.31L426.55,679.50L424.55,679.50ZM463.29,644.31L465.29,644.31L430.10,679.50L428.10,679.50ZM466.84,644.31L468.84,644.31L433.65,679.50L431.65,679.50Z" fill="#000"/></g><rect x="409.30" y="644.31" width="16.90" height="35.19" fill="none" stroke="#111" stroke-width="1"/>
<line x1="417.75" y1="643.53" x2="417.75" y2="644.31" stroke="#222" stroke-width="1"/>
<line x1="417.75" y1="644.31" x2="417.75" y2="645.08" stroke="#555" stroke-width="1"/>
<line x1="416.15" y1="643.53" x2="419.35" y2="643.53" stroke="#222" stroke-width="1"/>
<line x1="416.15" y1="645.08" x2="419.35" y2="645.08" stroke="#555" stroke-width="1"/>
<text x="417.75" y="637.53" text-anchor="middle" font-size="10.5" fill="#5a5a5a">c</text>
<rect x="426.20" y="647.36" width="16.90" height="32.14" fill="url(#pChk)" stroke="#111" stroke-width="1"/>
<line x1="432.95" y1="646.76" x2="436.35" y2="646.76" stroke="#000" stroke-width="1.5"/>
<text x="434.65" y="641.36" text-anchor="middle" font-size="10.5" fill="#5a5a5a">d</text>
<rect x="453.40" y="657.52" width="16.90" height="21.98" fill="url(#pBlue)" stroke="#111" stroke-width="1"/>
<line x1="460.15" y1="656.92" x2="463.55" y2="656.92" stroke="#000" stroke-width="1.5"/>
<text x="461.85" y="651.00" text-anchor="middle" font-size="10.5" fill="#5a5a5a">ab</text>
<clipPath id="hc29"><rect x="470.30" y="562.36" width="16.90" height="117.14"/></clipPath><g clip-path="url(#hc29)"><rect x="470.30" y="562.36" width="16.90" height="117.14" fill="#fff"/><path d="M349.36,562.36L351.36,562.36L468.50,679.50L466.50,679.50ZM352.91,562.36L354.91,562.36L472.05,679.50L470.05,679.50ZM356.46,562.36L358.46,562.36L475.60,679.50L473.60,679.50ZM360.01,562.36L362.01,562.36L479.15,679.50L477.15,679.50ZM363.56,562.36L365.56,562.36L482.70,679.50L480.70,679.50ZM367.11,562.36L369.11,562.36L486.25,679.50L484.25,679.50ZM370.66,562.36L372.66,562.36L489.80,679.50L487.80,679.50ZM374.21,562.36L376.21,562.36L493.35,679.50L491.35,679.50ZM377.76,562.36L379.76,562.36L496.90,679.50L494.90,679.50ZM381.31,562.36L383.31,562.36L500.45,679.50L498.45,679.50ZM384.86,562.36L386.86,562.36L504.00,679.50L502.00,679.50ZM388.41,562.36L390.41,562.36L507.55,679.50L505.55,679.50ZM391.96,562.36L393.96,562.36L511.10,679.50L509.10,679.50ZM395.51,562.36L397.51,562.36L514.65,679.50L512.65,679.50ZM399.06,562.36L401.06,562.36L518.20,679.50L516.20,679.50ZM402.61,562.36L404.61,562.36L521.75,679.50L519.75,679.50ZM406.16,562.36L408.16,562.36L525.30,679.50L523.30,679.50ZM409.71,562.36L411.71,562.36L528.85,679.50L526.85,679.50ZM413.26,562.36L415.26,562.36L532.40,679.50L530.40,679.50ZM416.81,562.36L418.81,562.36L535.95,679.50L533.95,679.50ZM420.36,562.36L422.36,562.36L539.50,679.50L537.50,679.50ZM423.91,562.36L425.91,562.36L543.05,679.50L541.05,679.50ZM427.46,562.36L429.46,562.36L546.60,679.50L544.60,679.50ZM431.01,562.36L433.01,562.36L550.15,679.50L548.15,679.50ZM434.56,562.36L436.56,562.36L553.70,679.50L551.70,679.50ZM438.11,562.36L440.11,562.36L557.25,679.50L555.25,679.50ZM441.66,562.36L443.66,562.36L560.80,679.50L558.80,679.50ZM445.21,562.36L447.21,562.36L564.35,679.50L562.35,679.50ZM448.76,562.36L450.76,562.36L567.90,679.50L565.90,679.50ZM452.31,562.36L454.31,562.36L571.45,679.50L569.45,679.50ZM455.86,562.36L457.86,562.36L575.00,679.50L573.00,679.50ZM459.41,562.36L461.41,562.36L578.55,679.50L576.55,679.50ZM462.96,562.36L464.96,562.36L582.10,679.50L580.10,679.50ZM466.51,562.36L468.51,562.36L585.65,679.50L583.65,679.50ZM470.06,562.36L472.06,562.36L589.20,679.50L587.20,679.50ZM473.61,562.36L475.61,562.36L592.75,679.50L590.75,679.50ZM477.16,562.36L479.16,562.36L596.30,679.50L594.30,679.50ZM480.71,562.36L482.71,562.36L599.85,679.50L597.85,679.50ZM484.26,562.36L486.26,562.36L603.40,679.50L601.40,679.50ZM487.81,562.36L489.81,562.36L606.95,679.50L604.95,679.50ZM491.36,562.36L493.36,562.36L610.50,679.50L608.50,679.50Z" fill="#000"/></g><rect x="470.30" y="562.36" width="16.90" height="117.14" fill="none" stroke="#111" stroke-width="1"/>
<line x1="478.75" y1="553.55" x2="478.75" y2="562.36" stroke="#222" stroke-width="1"/>
<line x1="478.75" y1="562.36" x2="478.75" y2="571.17" stroke="#555" stroke-width="1"/>
<line x1="477.15" y1="553.55" x2="480.35" y2="553.55" stroke="#222" stroke-width="1"/>
<line x1="477.15" y1="571.17" x2="480.35" y2="571.17" stroke="#555" stroke-width="1"/>
<text x="478.75" y="547.55" text-anchor="middle" font-size="10.5" fill="#5a5a5a">a</text>
<rect x="487.20" y="584.70" width="16.90" height="94.80" fill="url(#pDot)" stroke="#111" stroke-width="1"/>
<line x1="495.65" y1="576.40" x2="495.65" y2="584.70" stroke="#222" stroke-width="1"/>
<line x1="495.65" y1="584.70" x2="495.65" y2="592.99" stroke="#555" stroke-width="1"/>
<line x1="494.05" y1="576.40" x2="497.25" y2="576.40" stroke="#222" stroke-width="1"/>
<line x1="494.05" y1="592.99" x2="497.25" y2="592.99" stroke="#555" stroke-width="1"/>
<text x="495.65" y="570.40" text-anchor="middle" font-size="10.5" fill="#5a5a5a">a</text>
<clipPath id="hc30"><rect x="504.10" y="637.31" width="16.90" height="42.19"/></clipPath><g clip-path="url(#hc30)"><rect x="504.10" y="637.31" width="16.90" height="42.19" fill="#fff"/><path d="M498.69,637.31L500.69,637.31L458.50,679.50L456.50,679.50ZM502.24,637.31L504.24,637.31L462.05,679.50L460.05,679.50ZM505.79,637.31L507.79,637.31L465.60,679.50L463.60,679.50ZM509.34,637.31L511.34,637.31L469.15,679.50L467.15,679.50ZM512.89,637.31L514.89,637.31L472.70,679.50L470.70,679.50ZM516.44,637.31L518.44,637.31L476.25,679.50L474.25,679.50ZM519.99,637.31L521.99,637.31L479.80,679.50L477.80,679.50ZM523.54,637.31L525.54,637.31L483.35,679.50L481.35,679.50ZM527.09,637.31L529.09,637.31L486.90,679.50L484.90,679.50ZM530.64,637.31L532.64,637.31L490.45,679.50L488.45,679.50ZM534.19,637.31L536.19,637.31L494.00,679.50L492.00,679.50ZM537.74,637.31L539.74,637.31L497.55,679.50L495.55,679.50ZM541.29,637.31L543.29,637.31L501.10,679.50L499.10,679.50ZM544.84,637.31L546.84,637.31L504.65,679.50L502.65,679.50ZM548.39,637.31L550.39,637.31L508.20,679.50L506.20,679.50ZM551.94,637.31L553.94,637.31L511.75,679.50L509.75,679.50ZM555.49,637.31L557.49,637.31L515.30,679.50L513.30,679.50ZM559.04,637.31L561.04,637.31L518.85,679.50L516.85,679.50ZM562.59,637.31L564.59,637.31L522.40,679.50L520.40,679.50ZM566.14,637.31L568.14,637.31L525.95,679.50L523.95,679.50ZM569.69,637.31L571.69,637.31L529.50,679.50L527.50,679.50Z" fill="#000"/></g><rect x="504.10" y="637.31" width="16.90" height="42.19" fill="none" stroke="#111" stroke-width="1"/>
<line x1="510.85" y1="636.71" x2="514.25" y2="636.71" stroke="#000" stroke-width="1.5"/>
<text x="512.55" y="631.31" text-anchor="middle" font-size="10.5" fill="#5a5a5a">a</text>
<rect x="521.00" y="642.91" width="16.90" height="36.59" fill="url(#pChk)" stroke="#111" stroke-width="1"/>
<line x1="527.75" y1="642.31" x2="531.15" y2="642.31" stroke="#000" stroke-width="1.5"/>
<text x="529.45" y="636.91" text-anchor="middle" font-size="10.5" fill="#5a5a5a">a</text>
<rect x="69.00" y="524.00" width="475.00" height="155.50" fill="none" stroke="#1a1a1a" stroke-width="1.2"/>
<text x="62.2" y="683.30" text-anchor="end" font-size="10.8" fill="#5a5a5a">0</text>
<line x1="69.00" y1="648.40" x2="72.50" y2="648.40" stroke="#1a1a1a" stroke-width="1"/>
<text x="62.2" y="652.20" text-anchor="end" font-size="10.8" fill="#5a5a5a">60</text>
<line x1="69.00" y1="617.30" x2="72.50" y2="617.30" stroke="#1a1a1a" stroke-width="1"/>
<text x="62.2" y="621.10" text-anchor="end" font-size="10.8" fill="#5a5a5a">120</text>
<line x1="69.00" y1="586.20" x2="72.50" y2="586.20" stroke="#1a1a1a" stroke-width="1"/>
<text x="62.2" y="590.00" text-anchor="end" font-size="10.8" fill="#5a5a5a">180</text>
<line x1="69.00" y1="555.10" x2="72.50" y2="555.10" stroke="#1a1a1a" stroke-width="1"/>
<text x="62.2" y="558.90" text-anchor="end" font-size="10.8" fill="#5a5a5a">240</text>
<text x="62.2" y="527.80" text-anchor="end" font-size="10.8" fill="#5a5a5a">300</text>
<rect x="218" y="531.5" width="7" height="7" fill="url(#pBlue)" stroke="#222" stroke-width="1"/>
<text x="231.6" y="539" font-size="10.5" fill="#2a2a2a"><tspan font-style="italic">F</tspan><tspan font-size="6.5" dy="2.5">o</tspan><tspan dy="-2.5"></tspan></text>
<clipPath id="hc35"><rect x="282.00" y="531.50" width="7.00" height="7.00"/></clipPath><g clip-path="url(#hc35)"><rect x="282.00" y="531.50" width="7.00" height="7.00" fill="#fff"/><path d="M268.80,531.50L270.80,531.50L277.80,538.50L275.80,538.50ZM272.35,531.50L274.35,531.50L281.35,538.50L279.35,538.50ZM275.90,531.50L277.90,531.50L284.90,538.50L282.90,538.50ZM279.45,531.50L281.45,531.50L288.45,538.50L286.45,538.50ZM283.00,531.50L285.00,531.50L292.00,538.50L290.00,538.50ZM286.55,531.50L288.55,531.50L295.55,538.50L293.55,538.50ZM290.10,531.50L292.10,531.50L299.10,538.50L297.10,538.50ZM293.65,531.50L295.65,531.50L302.65,538.50L300.65,538.50Z" fill="#000"/></g><rect x="282.00" y="531.50" width="7.00" height="7.00" fill="none" stroke="#111" stroke-width="1"/>
<text x="297" y="539" font-size="10.5" fill="#2a2a2a"><tspan font-style="italic">F</tspan><tspan font-size="6.5" dy="2.5">m</tspan><tspan dy="-2.5"></tspan></text>
<rect x="346.5" y="531.5" width="7" height="7" fill="url(#pDot)" stroke="#222" stroke-width="1"/>
<text x="360" y="539" font-size="10.5" fill="#2a2a2a"><tspan font-style="italic">F</tspan><tspan font-size="6.5" dy="2.5">v</tspan><tspan dy="-2.5"></tspan></text>
<clipPath id="hc36"><rect x="411.50" y="531.50" width="7.00" height="7.00"/></clipPath><g clip-path="url(#hc36)"><rect x="411.50" y="531.50" width="7.00" height="7.00" fill="#fff"/><path d="M405.70,531.50L407.70,531.50L400.70,538.50L398.70,538.50ZM409.25,531.50L411.25,531.50L404.25,538.50L402.25,538.50ZM412.80,531.50L414.80,531.50L407.80,538.50L405.80,538.50ZM416.35,531.50L418.35,531.50L411.35,538.50L409.35,538.50ZM419.90,531.50L421.90,531.50L414.90,538.50L412.90,538.50ZM423.45,531.50L425.45,531.50L418.45,538.50L416.45,538.50ZM427.00,531.50L429.00,531.50L422.00,538.50L420.00,538.50ZM430.55,531.50L432.55,531.50L425.55,538.50L423.55,538.50Z" fill="#000"/></g><rect x="411.50" y="531.50" width="7.00" height="7.00" fill="none" stroke="#111" stroke-width="1"/>
<text x="425" y="539" font-size="10.5" fill="#2a2a2a"><tspan font-style="italic">F</tspan><tspan font-size="6.5" dy="2.5">v</tspan><tspan dy="-2.5"></tspan><tspan font-style="italic"> /F</tspan><tspan font-size="6.5" dy="2.5">m</tspan><tspan dy="-2.5" dx="0.5">(%)</tspan></text>
<rect x="475.5" y="531.5" width="7" height="7" fill="url(#pChk)" stroke="#222" stroke-width="1"/>
<text x="490" y="539" font-size="10.5" fill="#2a2a2a"><tspan font-style="italic">qP</tspan><tspan dx="6">(%)</tspan></text>
<text x="11.3" y="11.9" font-size="11.6" letter-spacing="0.3" fill="#222">(A)</text>
<text x="2.2" y="207.6" font-size="11.2" fill="#222">(B)</text>
<text x="1" y="362.4" font-size="11.6" fill="#222">(C)</text>
<text x="4.6" y="521.5" font-size="11.6" fill="#222">(D)</text>
<text transform="translate(37.9,277.6) rotate(-90)" text-anchor="middle" font-size="10" fill="#111">Photosynthetic pigment contents</text>
<text transform="translate(38.6,433.3) rotate(-90)" text-anchor="middle" font-size="10.2" fill="#111">Endogenous hormone contents</text>
<text transform="translate(37.7,602.2) rotate(-90)" text-anchor="middle" font-size="9.9" fill="#111">Chlorophyll fluorescence parameters</text>
<text x="113.3" y="692.5" text-anchor="middle" font-size="10" fill="#1a1a1a">Compound</text>
<text x="209.7" y="694" text-anchor="middle" font-size="10" fill="#1a1a1a">B</text>
<text x="304.7" y="694" text-anchor="middle" font-size="10" fill="#1a1a1a">G</text>
<text x="398.3" y="694" text-anchor="middle" font-size="10" fill="#1a1a1a">R</text>
<text x="493.5" y="694" text-anchor="middle" font-size="10" fill="#1a1a1a">W</text>
<text x="305.2" y="711.5" text-anchor="middle" font-size="10" fill="#1a1a1a">Experiment groups</text>
<circle cx="114" cy="698.6" r="0.7" fill="#999"/>
</svg>
</body></html>
